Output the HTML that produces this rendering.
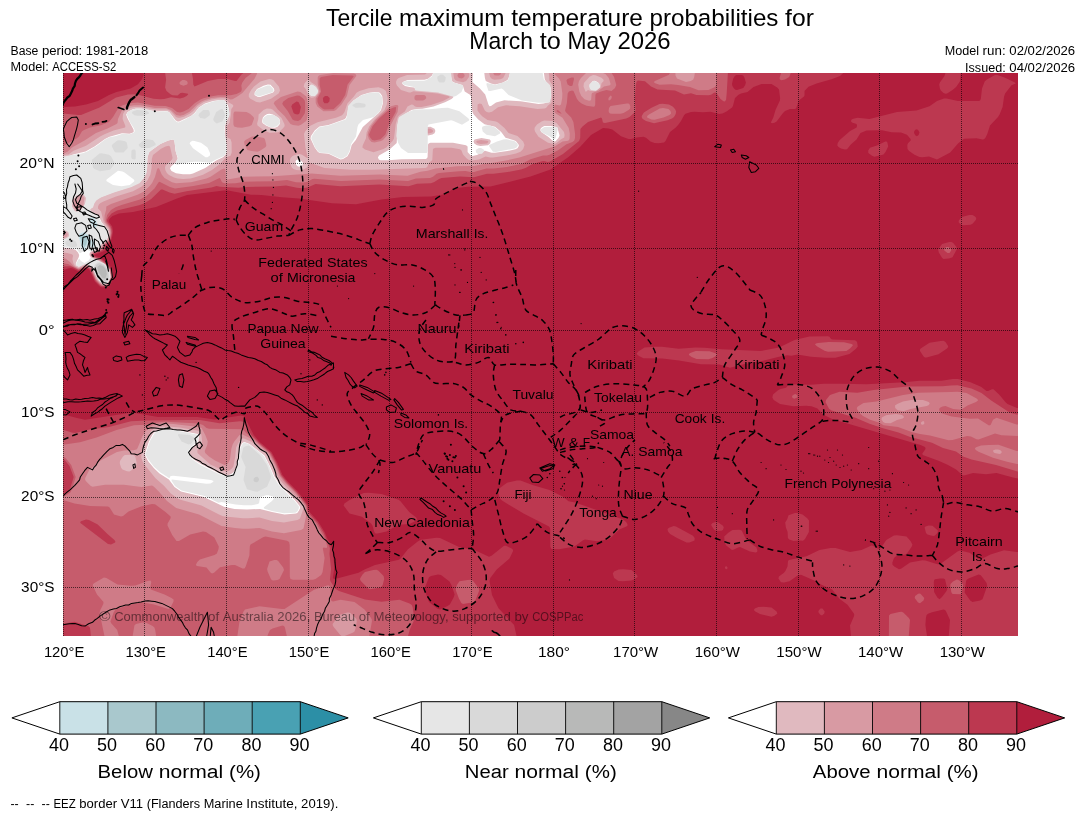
<!DOCTYPE html>
<html><head><meta charset="utf-8"><title>Tercile maximum temperature probabilities</title>
<style>html,body{margin:0;padding:0;background:#fff;}svg{display:block;font-family:"Liberation Sans",sans-serif;}text{-webkit-font-smoothing:antialiased;}svg{will-change:transform;opacity:0.9999;}</style>
</head><body>
<svg width="1085" height="816" viewBox="0 0 1085 816">
<rect x="0" y="0" width="1085" height="816" fill="#fff"/>
<defs><clipPath id="mapclip"><rect x="63" y="73" width="955.00" height="563.00"/></clipPath></defs>
<rect x="63" y="73" width="955.00" height="563.00" fill="#b11e3c"/>
<g clip-path="url(#mapclip)">
<path d="M144.5,66.0 842.0,66.0 843.8,66.0 843.8,69.5 843.2,73.0 840.0,76.1 831.5,79.2 816.5,83.4 808.5,86.7 804.5,91.0 804.5,95.5 804.0,96.5 798.8,100.5 796.1,108.5 794.5,109.1 790.0,109.0 785.0,111.1 783.0,113.0 776.6,121.5 774.5,122.8 772.0,123.3 770.8,122.5 773.3,117.5 775.5,110.0 779.9,100.5 780.1,98.0 779.0,89.6 777.2,87.5 771.5,84.1 761.5,84.0 753.5,87.0 747.5,92.0 741.0,93.4 738.5,94.7 735.0,98.1 733.0,105.8 732.1,107.5 726.5,111.6 722.5,113.5 719.0,114.1 710.5,111.8 703.0,112.3 694.5,111.8 691.0,112.1 685.5,113.7 684.2,115.0 681.0,121.0 678.5,124.5 675.8,127.5 670.0,132.0 665.5,141.0 664.0,142.4 658.5,143.3 654.5,143.0 650.5,141.6 646.0,137.7 643.5,136.8 636.5,137.5 631.0,139.1 628.5,139.0 621.0,136.3 612.3,129.5 608.5,128.5 603.0,128.0 591.0,135.0 580.0,147.0 568.5,157.0 550.5,169.4 530.5,176.5 490.5,186.5 467.5,186.8 457.0,187.9 454.0,188.8 443.0,194.4 431.0,196.5 403.0,196.9 381.5,199.5 356.0,204.3 332.0,203.2 299.0,198.4 282.0,197.2 261.5,194.9 251.0,194.7 228.0,190.5 224.0,190.4 187.0,195.1 177.0,198.4 156.0,207.1 133.0,212.0 119.0,213.5 112.5,215.9 110.0,218.3 108.7,220.5 109.0,221.9 112.2,226.5 113.1,231.5 111.7,239.0 109.9,242.5 106.7,246.0 108.5,248.0 108.3,248.5 102.5,251.8 94.3,255.0 95.1,256.0 100.5,257.7 107.0,262.6 111.5,268.0 112.8,271.5 113.3,278.5 110.0,285.5 107.5,287.3 102.0,287.4 99.5,286.3 94.8,281.5 89.5,270.1 87.0,268.3 84.3,268.5 79.0,271.2 77.0,270.8 73.0,268.5 71.0,268.1 68.1,268.5 62.0,270.7 56.0,270.8 56.0,107.2 75.0,106.6 86.0,104.5 98.0,100.9 109.0,95.0 116.5,92.1 130.7,88.5 138.0,84.2 142.1,79.0 143.4,75.5ZM736.5,74.9 735.0,75.7 733.2,78.5 732.0,84.0 732.4,86.0 734.0,88.5 735.5,89.8 737.0,90.1 743.3,88.0 745.2,85.0 745.9,82.5 744.4,77.5 743.1,75.5 741.5,74.9ZM947.5,66.0 960.8,66.0 960.7,74.5 959.9,81.5 956.1,87.0 952.5,90.1 947.1,93.5 945.5,93.8 943.5,92.9 940.8,90.5 939.9,88.5 939.2,84.5 939.9,82.5 944.5,76.0ZM995.0,75.0 997.5,75.1 1004.5,77.5 1015.0,82.5 1015.7,83.5 1011.5,85.3 1005.1,93.5 1004.1,96.5 1002.6,107.0 999.8,114.0 998.0,117.0 990.0,125.5 987.3,134.0 985.3,138.0 984.0,139.3 982.5,139.4 976.5,138.3 964.0,138.7 958.0,143.6 950.2,152.5 937.0,159.5 929.0,156.4 922.0,157.2 919.5,157.0 914.5,154.7 909.1,151.0 907.5,149.0 907.3,145.0 908.0,143.2 910.7,140.5 910.6,139.0 907.0,134.8 901.0,132.4 891.5,132.3 882.0,130.3 866.5,130.4 860.5,133.0 856.5,139.6 850.8,144.5 847.0,149.2 845.0,149.5 841.0,148.6 838.5,147.0 837.3,145.5 837.7,143.0 839.7,140.0 850.1,131.0 856.6,127.5 857.1,125.5 856.5,124.1 852.0,122.5 851.1,121.5 851.2,120.0 852.5,118.9 857.5,117.7 869.5,119.1 897.0,112.0 916.5,110.5 929.5,106.2 937.0,101.1 944.0,98.4 946.5,98.5 958.0,101.1 979.0,101.0 980.0,100.5 980.8,99.0 982.0,88.6 984.7,81.5 986.9,79.5ZM916.0,129.3 914.3,131.0 914.0,133.0 915.5,135.4 917.0,136.2 918.6,135.0 919.5,132.5 918.0,129.8ZM885.3,141.5 886.5,141.6 887.4,142.5 888.2,146.5 885.5,151.9 883.5,154.4 874.5,156.7 872.0,155.8 868.3,153.0 868.2,150.5 870.0,147.8 877.0,145.4ZM969.3,215.0 972.5,215.1 975.0,216.6 976.3,218.0 975.8,220.0 972.5,223.8 970.5,224.7 963.5,225.3 961.5,224.8 959.1,223.0 958.6,222.0 958.8,220.5 961.8,217.0ZM949.2,242.0 951.5,241.9 953.0,242.7 956.5,247.0 956.7,249.5 952.5,257.2 949.0,258.4 943.5,259.0 942.0,257.7 938.8,252.5 938.1,249.5 942.0,243.9ZM809.4,336.5 828.0,336.3 829.5,336.8 831.0,339.0 832.5,339.6 855.0,340.3 857.0,341.8 857.8,346.5 856.0,348.8 849.5,353.9 835.5,357.7 825.5,357.8 811.0,356.7 797.5,354.6 791.5,355.8 787.0,355.3 779.0,356.7 759.5,361.5 744.5,364.1 730.0,367.7 719.5,364.4 701.0,364.2 679.0,360.5 662.5,358.4 643.5,358.2 639.0,356.0 637.1,354.5 636.7,353.5 638.3,351.5 644.5,347.6 654.5,346.7 662.0,346.8 678.5,348.7 695.5,347.6 704.5,347.7 721.5,349.2 760.5,351.1 779.0,347.5 794.5,340.0ZM940.7,341.0 943.5,340.8 945.5,342.0 948.1,346.0 948.1,347.0 947.0,348.4 938.5,354.2 926.5,357.5 925.0,357.4 923.6,356.5 920.0,351.0 919.9,349.5 920.7,348.5 929.5,342.7ZM952.7,379.0 958.0,378.9 970.5,382.2 981.0,386.8 986.5,391.1 988.0,391.0 992.0,389.2 993.5,389.3 999.1,394.5 1005.8,402.5 1007.5,403.9 1017.0,408.0 1025.5,408.2 1025.5,479.3 1018.0,478.6 1013.0,477.5 996.5,472.9 986.0,474.3 973.0,472.9 965.0,475.3 963.0,475.4 956.1,469.5 947.5,464.8 938.5,460.8 922.7,455.0 922.3,453.5 925.2,449.5 925.6,448.0 924.5,446.7 920.5,444.9 832.1,419.0 823.0,414.5 817.5,408.6 811.5,406.3 806.0,405.8 793.5,406.3 780.0,404.0 773.7,400.0 772.3,397.5 773.0,394.4 778.0,390.2 780.5,388.9 786.0,387.7 788.5,384.8 790.0,384.3 810.5,384.7 824.0,383.7 840.0,383.7 866.5,384.2 904.5,382.2 919.5,380.7 941.5,380.7ZM128.7,413.0 133.5,412.8 158.0,417.1 197.5,417.0 214.5,419.6 241.0,415.4 243.5,416.0 247.1,422.0 253.8,435.0 259.5,441.7 271.5,452.0 277.2,462.5 282.5,475.0 288.0,481.7 297.7,491.5 307.1,503.5 308.2,505.5 308.7,509.5 310.0,512.6 318.2,521.5 324.9,532.5 327.0,538.1 330.8,544.5 331.8,547.5 334.3,564.5 334.0,570.5 332.9,577.5 333.7,579.0 338.0,578.3 358.5,572.7 364.5,569.4 375.0,564.9 399.0,559.8 400.6,558.5 407.7,549.5 418.0,541.2 421.0,539.8 436.5,537.8 440.0,537.9 459.0,547.1 474.5,550.1 489.0,556.7 491.5,555.7 504.0,545.7 506.0,545.8 511.6,548.5 512.8,549.5 513.1,551.0 509.5,558.5 496.7,569.5 490.3,578.0 489.5,581.0 492.0,595.0 498.5,608.3 514.1,625.0 518.2,643.5 56.0,643.5 56.0,413.7 62.0,413.9 77.0,418.1 85.0,419.7ZM438.0,574.4 431.0,576.1 429.0,577.3 424.2,589.5 429.0,602.0 437.5,608.7 440.0,609.5 447.5,606.1 449.8,604.5 453.6,597.5 454.6,594.5 451.6,585.5 449.5,581.5 441.0,575.0ZM516.8,480.5 520.5,480.5 532.5,485.1 549.5,490.0 563.5,497.0 568.5,501.3 575.0,502.6 588.0,506.9 623.0,519.5 626.1,522.0 627.4,524.0 627.6,525.5 626.4,526.5 619.3,529.5 610.5,538.0 608.5,539.2 597.0,541.3 585.0,539.5 583.0,540.3 575.9,545.5 573.5,546.7 559.0,549.2 551.5,549.0 550.3,547.0 550.2,529.5 550.0,528.0 549.0,526.5 524.0,513.8 502.0,500.6 499.8,498.5 497.9,491.5 498.5,489.0 507.0,482.7ZM363.6,493.0 368.5,492.7 381.5,493.9 398.5,499.7 400.5,501.3 409.2,512.0 416.2,517.5 417.2,519.5 415.6,521.0 409.5,523.9 398.5,524.8 386.5,531.6 377.5,533.4 375.5,533.4 374.3,532.0 372.5,525.5 371.0,523.4 362.0,516.8 349.5,513.5 343.6,505.5 344.4,503.5 349.5,500.0ZM794.9,513.0 797.5,512.9 802.5,514.6 807.0,517.9 809.0,520.5 808.9,532.0 805.0,539.0 803.0,540.8 799.5,540.5 793.5,541.1 789.2,539.5 787.9,538.0 787.6,532.0 785.9,527.5 785.2,522.5 787.3,519.0 788.5,515.2ZM715.7,522.0 718.0,522.3 723.0,525.7 723.8,527.5 722.9,530.0 721.5,530.7 717.0,530.8 715.4,530.5 714.0,529.5 711.6,526.0 711.2,524.5 712.5,523.0ZM928.8,525.5 932.5,525.7 937.9,530.5 937.7,532.5 935.0,535.5 933.5,536.0 931.0,535.5 927.5,534.4 926.0,533.0 924.6,527.5 925.5,526.4ZM673.7,526.0 676.0,526.4 693.0,535.8 694.7,538.0 694.5,540.4 689.5,542.4 686.5,542.6 677.5,538.3 670.1,534.0 668.0,531.5 667.5,529.0 669.0,527.7ZM732.5,530.0 739.5,529.8 741.7,530.5 746.4,540.0 756.5,547.5 757.4,550.5 757.1,552.0 755.5,552.4 750.0,551.6 740.0,547.1 738.0,547.4 734.0,549.5 732.0,549.9 726.2,545.5 724.6,542.5 724.2,536.5 728.6,532.5ZM893.9,535.5 897.0,535.3 906.5,536.6 910.5,541.1 912.4,544.5 911.8,546.5 907.0,553.5 905.0,554.4 896.0,556.3 894.0,558.0 892.4,562.5 892.4,564.5 894.2,566.5 899.0,569.2 901.0,568.7 910.0,562.5 922.5,560.3 925.5,560.4 937.5,564.2 940.0,564.2 957.5,551.4 960.0,550.4 969.5,552.7 977.5,558.4 979.5,559.3 981.5,558.9 990.5,554.6 1004.0,550.3 1016.5,552.1 1025.5,552.2 1025.5,643.5 948.2,643.5 950.0,620.0 945.9,611.0 945.0,609.9 943.5,609.4 932.0,612.2 928.0,613.7 926.6,615.0 925.9,618.0 925.4,625.0 928.1,643.5 851.7,643.5 850.0,625.5 854.1,616.0 854.2,614.0 847.5,604.7 839.5,598.7 832.2,589.5 820.9,584.5 816.5,581.4 801.0,574.8 798.0,575.3 789.5,581.3 784.0,582.5 781.0,582.2 778.4,578.5 778.9,576.5 784.0,572.7 785.5,570.8 787.5,566.5 788.0,561.1 789.0,560.0 806.5,556.2 819.5,550.1 830.5,547.9 835.5,547.9 850.0,552.1 861.5,550.0 871.5,545.6 873.3,546.0 878.0,548.8 879.5,548.9 881.0,547.7 886.3,540.0ZM940.0,578.4 935.0,579.2 934.2,580.0 933.8,582.0 934.1,592.0 937.5,597.7 939.5,599.2 942.0,597.1 946.5,591.1 947.3,589.0 945.0,579.3 943.5,578.4ZM978.5,574.5 968.0,578.7 966.5,580.0 966.0,581.5 964.6,592.5 970.2,600.5 972.5,602.1 980.0,600.6 982.5,599.2 987.2,586.0 986.6,583.0 982.2,577.0 980.4,575.0ZM725.4,566.5 726.5,566.3 727.3,567.0 727.6,568.0 727.0,569.1 726.0,569.2 725.2,568.5 724.9,567.5ZM618.6,569.5 623.5,569.2 631.5,570.1 636.5,574.5 637.5,576.0 637.5,577.0 634.9,579.0 631.5,580.6 623.0,581.3 618.5,580.9 614.1,578.0 612.8,573.5 614.0,571.6ZM758.4,607.0 763.5,606.7 771.5,607.6 776.6,611.5 777.4,613.5 774.5,615.7 771.5,616.7 760.0,614.1 755.3,611.5 753.8,610.0 754.8,608.5ZM820.5,608.5 822.5,608.5 824.7,611.5 824.3,613.5 822.0,615.5 820.0,614.5 818.3,612.0 818.7,610.5Z" fill="#bc3850" fill-rule="evenodd"/>
<path d="M164.1,66.0 190.6,66.0 193.0,79.0 193.3,84.5 194.5,86.6 207.8,81.0 218.0,79.0 227.5,78.9 235.0,81.1 236.5,81.1 241.5,74.6 247.0,70.0 248.4,66.0 728.3,66.0 726.7,93.5 726.1,99.5 725.0,101.5 723.5,101.3 720.5,99.0 717.0,93.8 715.5,92.6 714.0,92.7 711.0,94.7 708.5,95.2 696.5,95.1 691.0,93.2 684.0,94.6 675.0,90.5 657.5,89.6 651.0,86.5 645.0,81.3 637.9,80.5 636.5,81.7 635.8,85.0 634.8,99.5 635.6,110.5 634.5,112.6 629.5,116.9 626.2,118.5 605.0,123.1 602.9,122.5 602.0,118.4 601.0,117.5 588.0,121.9 582.5,126.5 580.4,129.0 580.2,138.0 579.1,141.0 563.0,153.9 549.5,161.8 547.5,162.1 544.0,161.1 542.0,161.3 532.0,164.3 525.5,168.0 521.0,169.4 507.5,172.1 493.5,173.7 487.0,173.8 474.0,177.2 460.0,176.4 441.5,178.1 439.0,178.9 434.3,182.0 431.0,183.2 417.0,183.8 408.5,186.3 379.5,184.6 340.5,186.3 315.5,184.1 307.5,187.4 301.5,188.3 297.0,187.8 286.0,185.4 274.5,186.4 245.5,186.9 238.5,187.8 220.0,186.7 216.5,186.0 211.5,187.4 186.5,191.2 174.5,193.7 169.5,192.6 162.5,189.4 161.0,189.4 151.2,199.0 144.5,203.2 139.0,205.3 117.0,210.6 111.5,213.6 108.0,217.8 107.0,220.0 107.1,221.5 110.7,226.5 111.8,230.0 111.9,233.5 110.8,238.5 108.6,242.5 104.9,245.5 104.4,248.0 103.5,249.5 100.0,251.6 93.5,253.9 92.9,255.0 94.9,257.0 100.0,258.6 105.5,262.8 110.2,268.0 111.4,270.5 112.3,274.5 112.3,278.0 109.4,284.5 107.0,286.3 102.0,286.3 100.0,285.3 95.7,281.0 90.5,269.7 87.5,267.4 84.5,267.4 78.5,270.1 72.5,267.1 70.0,266.3 56.0,266.8 56.0,113.2 62.0,113.3 78.0,115.1 81.0,114.9 99.5,107.6 116.0,97.5 128.0,94.4 136.0,94.3 153.5,98.8 160.0,99.3 164.1,99.0 171.0,97.3 180.0,98.5 183.8,97.5 186.5,96.0 188.1,94.5 188.0,93.7 182.5,92.7 180.5,93.0 177.5,95.6 172.5,95.3 170.5,94.3 166.5,91.0 165.1,87.5 166.1,79.5ZM296.5,101.4 292.2,104.5 291.3,106.5 293.6,113.0 295.0,114.1 297.5,114.6 299.0,114.0 299.6,113.0 300.9,107.0 298.5,102.1ZM325.0,95.9 322.9,98.0 323.2,101.5 324.5,103.3 327.5,103.3 329.4,101.5 329.7,98.0 327.5,95.9ZM783.1,66.0 793.5,66.0 789.2,77.0 785.0,79.6 781.5,80.2 779.9,79.5 779.6,78.0ZM659.5,104.0 662.5,103.8 669.0,104.6 673.0,106.7 675.3,109.5 676.1,111.5 675.7,114.0 674.0,117.1 672.0,118.5 667.5,120.3 654.0,123.3 646.0,121.1 642.7,119.0 641.8,117.5 641.7,116.0 643.9,112.5 651.5,107.8ZM946.1,247.0 948.5,246.9 951.0,248.7 951.2,250.5 949.5,252.9 947.5,252.9 944.3,250.5 944.2,249.0ZM828.7,342.0 844.0,342.3 851.6,344.0 852.5,344.5 852.8,345.5 850.0,348.6 846.4,351.0 828.0,351.8 824.5,350.8 817.2,346.5 815.0,344.5 815.9,343.5 818.0,342.9ZM695.7,351.0 709.5,351.2 716.2,353.5 717.3,355.0 712.5,358.1 708.5,359.3 696.5,359.1 691.7,357.0 688.9,355.0 689.0,354.0 690.2,353.0ZM950.6,385.5 957.5,385.3 971.5,388.5 981.5,393.0 991.2,400.5 1010.0,412.7 1016.5,414.6 1025.5,414.7 1025.5,472.6 1017.5,471.5 996.0,465.0 971.5,459.6 963.0,456.5 956.0,451.6 943.0,448.0 932.0,442.8 909.5,436.7 898.5,432.6 883.0,428.3 869.5,423.7 855.5,417.8 831.5,410.5 829.0,408.7 825.5,402.0 826.3,399.5 830.0,395.1 839.5,391.7 857.5,392.7 873.5,389.9 907.5,386.4 942.5,386.2ZM793.9,394.5 795.5,394.1 797.0,394.9 797.6,396.5 797.1,397.5 794.5,398.8 792.5,398.1 792.0,396.0ZM188.1,420.0 200.0,420.0 219.5,423.3 240.0,421.3 242.5,421.5 244.0,422.4 251.5,435.0 259.0,442.7 270.9,453.0 276.2,463.0 281.2,475.0 287.0,482.2 296.6,492.0 306.1,504.0 307.2,506.0 307.6,510.0 309.1,513.5 317.3,522.5 323.7,533.0 329.9,548.0 329.5,554.0 331.1,569.0 329.9,579.5 330.6,581.5 335.6,589.0 339.0,590.9 365.0,599.5 381.5,601.7 399.5,599.7 409.5,603.4 411.8,605.0 412.7,607.5 414.4,619.5 409.8,629.5 406.0,643.5 91.6,643.5 90.2,629.0 89.8,627.5 88.5,626.2 74.5,621.8 63.5,623.7 56.0,623.8 56.0,495.5 62.5,495.2 68.6,491.5 70.0,489.0 73.7,477.0 69.5,465.9 64.7,460.0 61.5,457.6 56.0,457.5 56.0,429.2 62.5,429.5 72.5,432.7 75.5,433.1 89.5,429.5 109.0,427.0 131.0,421.3 147.0,420.5ZM86.0,519.4 81.0,521.2 80.3,522.0 80.4,523.0 108.0,544.0 111.0,544.4 115.1,542.5 115.4,541.5 114.4,540.0 107.5,534.1 97.7,524.5 89.0,519.9ZM373.3,570.0 376.5,569.8 378.5,570.8 383.6,576.0 384.2,579.0 382.7,585.0 381.5,586.8 379.0,587.7 370.0,589.2 368.0,588.2 361.3,581.5 360.2,580.0 360.1,578.5 362.5,574.5 365.0,571.9ZM956.8,579.5 958.0,579.7 960.1,581.0 962.4,583.5 963.1,585.0 961.8,592.5 961.0,593.9 960.0,594.3 953.0,594.0 952.0,593.4 951.3,592.0 950.3,586.0 950.5,584.0 953.0,581.5ZM467.6,580.0 471.0,579.8 473.0,580.7 478.5,588.0 479.2,590.5 475.8,599.5 474.5,601.5 472.0,602.6 463.0,604.1 461.3,603.0 458.9,598.5 455.9,590.5 455.8,588.0 457.2,584.5 459.5,581.3ZM917.8,594.0 919.0,593.6 920.5,593.8 924.3,598.0 923.5,600.4 920.0,603.3 918.0,602.6 914.7,598.0 915.1,596.0ZM899.2,612.0 901.5,611.8 903.3,612.5 908.9,618.0 910.0,620.0 908.2,643.5 888.8,643.5 889.0,615.5 890.5,613.9Z" fill="#c65c6c" fill-rule="evenodd"/>
<path d="M253.9,66.0 609.2,66.0 609.7,70.0 614.1,77.0 616.3,85.0 615.0,88.0 611.5,90.9 606.5,90.1 601.0,91.5 596.0,93.5 595.4,95.0 595.2,105.0 594.5,106.4 593.5,106.7 586.5,105.7 582.0,103.8 579.0,101.5 577.0,99.0 573.5,91.0 572.0,90.4 568.9,91.5 567.7,93.5 566.9,103.0 565.1,110.5 565.7,112.0 571.2,117.5 573.4,122.0 575.1,134.0 575.0,138.0 574.3,140.5 572.5,142.1 566.5,144.3 558.5,150.0 549.5,154.7 547.0,155.5 543.0,155.4 530.5,159.3 522.0,163.7 507.0,166.9 493.5,168.5 486.3,168.5 474.0,171.9 470.5,172.0 465.5,171.1 459.0,171.2 439.0,173.1 436.5,173.8 433.0,176.7 430.0,177.9 416.0,178.5 408.0,181.0 379.5,179.4 341.0,181.1 314.5,178.7 312.5,179.0 307.5,181.8 303.5,182.5 296.0,182.2 287.0,180.1 274.0,181.2 244.5,181.7 235.5,183.2 227.5,183.6 224.5,183.2 222.0,182.2 220.2,178.5 219.5,178.1 209.0,182.9 193.5,185.9 175.0,188.4 170.0,187.1 159.5,181.7 158.4,182.5 154.5,188.5 146.5,196.0 140.0,199.4 121.5,204.9 115.5,207.2 111.0,210.1 107.2,215.0 105.8,220.5 106.5,222.5 109.6,226.5 110.9,229.5 111.2,233.0 110.3,238.0 108.1,242.0 104.2,245.0 103.1,248.0 102.0,249.5 97.0,252.1 93.0,253.3 92.1,255.0 94.0,257.2 99.0,258.8 102.1,261.0 106.8,265.0 110.3,269.5 111.6,274.0 111.7,277.5 110.7,280.5 108.0,285.1 106.5,285.7 103.5,285.9 101.5,285.4 100.0,284.5 95.5,279.5 90.9,269.0 87.5,266.6 85.0,266.5 79.5,269.2 78.0,269.3 68.0,263.9 56.0,262.3 56.0,146.2 63.5,145.7 76.5,138.6 79.0,136.4 82.0,131.2 84.0,129.9 90.0,127.5 101.0,125.3 108.9,122.0 113.0,117.1 117.8,109.0 120.5,106.3 123.5,104.9 131.0,103.0 138.0,102.5 154.5,105.7 165.5,106.0 172.0,108.1 177.0,112.0 180.0,112.4 183.5,111.5 188.5,109.0 195.0,103.1 200.5,99.6 203.5,98.3 210.5,96.4 218.0,95.3 230.5,95.3 236.5,93.9 240.5,92.0 241.4,91.0 241.8,89.0 241.3,85.5 242.3,82.5 245.5,78.0 251.4,73.5ZM297.0,95.5 288.3,98.0 283.3,101.5 282.3,103.5 282.9,105.0 287.7,111.0 292.5,119.5 294.5,120.5 298.0,121.1 300.5,119.7 304.7,113.5 305.2,110.5 305.1,103.0 304.7,100.5 303.1,98.5 299.5,95.7ZM332.5,75.0 321.0,76.9 319.6,78.5 319.6,84.5 321.1,91.5 317.4,98.5 317.5,102.0 319.0,105.5 322.5,108.5 324.5,109.5 333.5,109.2 340.2,103.0 345.2,95.0 347.6,84.5 353.6,76.5 353.5,76.0 352.0,75.5ZM393.5,107.4 389.3,109.5 378.5,119.0 372.5,126.3 369.0,134.5 369.8,137.0 372.2,140.0 374.5,140.5 380.5,139.2 385.4,134.5 388.8,124.5 395.6,112.0 396.1,107.5 395.5,107.1ZM557.0,109.9 556.5,111.0 557.4,112.0 560.5,113.5 561.7,113.5 558.5,110.4ZM571.5,77.4 567.5,79.0 566.4,80.5 567.6,84.5 570.0,86.1 571.5,86.1 572.5,85.4 574.0,79.0 573.6,77.5ZM671.1,66.0 716.3,66.0 716.3,83.5 715.8,86.0 714.5,87.2 708.5,90.0 698.5,90.2 690.0,87.1 678.0,85.0 671.0,84.3 659.5,84.7 654.6,83.0 654.0,82.0 654.9,81.0 669.0,74.7 670.1,72.5ZM182.3,80.0 184.5,79.9 187.0,80.9 187.8,83.0 187.1,84.5 183.5,85.8 180.1,84.5 179.5,83.5 179.8,82.0ZM610.5,95.5 611.6,96.0 611.7,98.0 610.5,99.7 609.0,100.4 608.4,100.0 608.5,98.0ZM626.8,103.5 628.5,103.5 629.5,104.2 630.3,106.5 630.1,108.5 629.0,109.8 623.5,112.9 620.5,113.8 612.0,113.7 610.0,113.4 609.0,112.4 608.6,111.0 609.0,108.0 610.5,105.9ZM659.7,108.5 663.0,108.1 668.5,109.1 670.5,111.0 671.1,113.5 669.5,115.0 663.6,117.5 654.5,119.8 651.4,119.5 647.1,117.5 647.2,116.0 649.0,114.5ZM951.1,392.0 957.5,391.7 966.5,393.0 976.6,398.5 977.7,399.5 978.0,400.5 976.0,402.0 967.5,405.4 961.0,409.7 953.1,409.0 945.5,406.1 942.5,406.5 940.0,407.7 939.1,409.0 939.8,411.5 941.5,413.3 951.5,416.6 970.0,418.7 978.0,418.4 989.0,425.6 990.6,425.0 993.0,419.7 996.5,417.8 1016.5,424.5 1025.5,424.7 1025.5,436.3 1001.5,435.2 995.0,433.6 978.5,439.6 976.5,439.3 971.0,436.6 967.0,435.9 952.5,440.0 948.5,440.2 930.0,435.6 920.0,434.0 911.7,432.0 898.0,427.1 883.5,425.3 879.5,422.8 870.0,419.8 863.0,416.0 859.9,413.5 856.9,409.0 857.0,407.5 857.8,406.5 863.5,403.0 876.5,401.4 903.0,395.0 918.0,392.8ZM162.1,422.0 166.5,421.8 198.5,423.6 203.0,424.9 206.5,428.1 209.0,428.8 242.0,429.3 243.5,430.1 246.0,433.0 254.0,438.7 258.6,443.5 269.4,452.5 275.5,463.5 280.5,475.5 286.5,482.9 296.0,492.6 305.5,504.6 306.4,506.5 307.1,511.5 308.5,514.8 316.0,523.0 323.5,535.9 326.6,544.0 327.2,547.0 326.5,548.0 323.5,547.6 322.8,548.5 324.6,558.0 322.6,572.0 321.2,575.0 315.5,578.9 313.0,579.7 293.0,579.7 290.5,579.1 289.8,576.5 289.7,545.0 289.1,542.0 287.0,540.8 265.5,536.5 263.5,537.1 250.5,544.6 249.8,546.5 249.4,555.5 245.7,566.5 244.5,568.5 242.5,568.5 235.0,565.1 231.9,565.0 220.0,567.2 214.0,572.7 212.0,573.6 210.5,572.5 206.5,567.4 197.0,566.0 195.8,565.0 197.3,562.0 199.9,559.5 214.5,555.1 216.9,553.5 218.5,549.0 218.8,546.5 214.3,537.5 206.0,532.1 203.0,531.5 190.2,534.5 179.0,540.9 176.5,541.0 172.2,535.0 167.5,525.5 167.6,523.5 170.7,518.0 170.6,516.5 165.5,512.0 155.0,504.3 152.0,504.1 141.0,506.5 128.5,511.5 123.0,516.1 121.0,516.6 114.0,514.5 109.6,507.5 108.0,506.5 90.0,506.1 74.5,503.5 63.0,499.9 56.0,499.6 56.0,497.7 63.0,497.2 70.4,492.5 72.2,488.5 75.7,477.0 71.2,465.0 66.0,458.6 62.5,455.9 56.0,455.6 56.0,444.7 64.5,444.6 80.0,442.3 96.5,437.6 116.5,430.1 134.0,425.3 146.5,424.8 151.0,423.3ZM988.7,445.0 998.5,444.8 1016.5,451.0 1025.5,451.2 1025.5,464.8 1017.0,463.9 1007.0,461.7 993.0,457.7 978.5,451.8 975.8,450.0 974.8,448.5 976.0,447.2 981.0,445.5ZM274.2,560.0 276.5,559.9 278.0,560.7 283.2,567.5 284.0,570.0 279.5,579.0 277.5,579.9 273.5,580.6 272.0,580.2 270.9,579.0 267.6,571.5 267.1,569.0 269.5,561.6ZM103.9,577.5 106.4,578.0 117.5,584.4 130.5,585.7 135.5,585.4 147.5,581.1 150.5,580.5 151.3,582.0 150.3,587.5 150.9,589.5 164.5,594.4 171.5,597.9 173.6,599.5 173.5,601.5 170.5,607.6 168.5,609.0 154.0,604.5 142.0,602.3 129.5,604.6 115.6,609.5 113.8,612.0 110.4,621.5 111.4,623.5 117.2,630.0 120.9,643.5 106.0,643.5 99.6,613.0 100.0,610.8 103.3,604.0 103.5,602.0 97.0,594.5 92.7,585.5 93.0,584.2 94.0,583.2ZM327.2,585.5 329.0,585.5 330.2,587.0 330.8,599.0 331.5,601.0 333.0,601.4 340.5,599.7 354.5,602.1 364.5,609.4 370.7,617.5 371.8,619.5 371.9,621.5 368.0,643.5 288.5,643.5 284.9,627.5 284.0,625.9 282.5,625.5 272.5,628.6 270.0,630.0 268.3,633.5 265.0,643.5 236.3,643.5 239.4,622.0 243.5,611.5 245.0,609.6 259.5,606.2 282.0,609.1 284.5,609.0 314.0,589.8ZM142.2,622.5 146.0,622.7 152.7,626.0 154.4,627.5 155.2,630.0 157.3,643.5 131.4,643.5 134.4,625.5 136.0,624.1Z" fill="#cf7b87" fill-rule="evenodd"/>
<path d="M259.3,66.0 491.7,66.0 493.6,74.0 494.5,75.2 496.5,75.6 499.0,75.4 500.5,74.5 503.5,66.0 553.0,66.0 554.5,73.9 559.0,78.5 560.7,81.5 562.4,93.5 562.2,98.0 561.0,104.5 559.5,105.4 555.0,104.5 554.3,106.0 554.2,111.5 555.5,113.3 562.5,117.8 568.7,128.0 569.8,133.5 569.6,138.5 569.1,140.0 568.0,140.8 562.5,141.6 555.0,146.2 519.5,157.6 504.5,160.8 493.0,162.8 485.5,163.5 474.0,165.9 457.0,166.3 435.5,168.4 427.5,170.8 420.5,171.8 407.5,175.8 379.5,174.4 340.5,175.8 311.5,173.4 273.5,176.2 243.0,176.8 227.8,179.5 226.5,179.1 226.0,178.2 225.5,170.1 225.0,168.9 224.0,168.6 221.0,169.8 211.0,176.6 206.5,178.5 191.0,182.2 176.0,183.2 172.0,182.3 164.5,178.1 161.7,174.5 159.1,168.5 158.0,168.0 157.0,169.4 155.0,177.0 152.1,183.0 149.7,186.0 144.0,191.4 137.5,194.8 111.0,204.0 106.3,206.5 106.2,209.5 104.6,215.5 104.5,220.0 105.3,222.5 109.0,227.2 110.1,229.5 110.5,232.5 110.0,237.0 108.0,241.1 103.6,244.5 101.3,249.0 96.7,251.5 92.5,252.8 91.4,255.0 92.1,256.5 93.5,257.6 99.0,259.5 101.7,261.5 106.0,265.2 109.6,269.5 110.9,274.0 111.1,277.5 107.6,284.5 106.0,285.2 103.0,285.2 100.0,283.6 95.9,279.0 91.3,268.5 88.5,266.4 85.5,265.7 79.5,268.4 78.0,268.6 73.7,266.0 70.0,262.0 65.5,258.5 56.0,257.0 56.0,152.6 60.0,154.5 63.0,154.3 65.5,152.4 67.5,151.8 72.0,147.6 84.5,140.5 96.0,133.1 107.5,128.6 116.5,124.0 117.5,123.0 118.0,119.0 121.6,111.0 124.5,108.4 130.0,106.1 134.0,105.3 140.5,105.3 155.0,108.0 166.0,108.1 171.0,109.9 176.3,115.0 180.0,115.7 183.5,114.9 189.5,111.8 197.0,104.6 202.0,101.2 205.0,99.9 211.5,98.1 220.5,96.9 226.0,97.2 230.5,99.6 232.5,99.2 237.0,96.8 242.4,93.0 254.5,78.8 256.7,74.5ZM297.5,91.5 281.0,97.1 274.7,101.5 273.7,103.5 277.9,109.5 284.6,116.0 290.5,124.0 293.0,124.9 298.5,125.7 301.0,124.8 305.5,121.5 306.8,120.0 307.6,116.0 308.2,108.0 307.2,99.5 306.3,96.5 300.5,91.9ZM333.5,73.0 320.0,75.1 318.4,76.0 317.7,77.5 317.7,84.0 319.7,91.5 319.0,93.5 315.6,98.5 315.7,103.0 317.3,106.5 323.5,111.3 334.0,111.1 336.0,109.9 341.4,104.5 346.9,96.0 349.5,85.1 356.3,76.0 356.0,74.5 354.0,73.6ZM395.5,104.9 391.0,106.2 388.5,107.8 385.0,111.6 376.1,119.5 371.1,126.0 368.3,132.0 367.6,135.0 368.9,139.0 371.5,142.0 374.5,142.4 381.0,141.1 383.0,139.9 387.1,135.5 390.5,125.5 397.6,112.0 398.3,106.0 397.4,105.0ZM416.0,94.9 414.7,96.0 414.4,98.0 414.7,99.5 416.0,100.6 423.0,100.5 425.0,99.5 426.3,98.0 425.7,96.0 424.2,95.0ZM461.0,72.4 458.2,73.5 457.4,75.5 458.0,77.0 459.0,77.9 462.0,78.5 464.2,77.0 464.7,75.0 463.0,72.9ZM235.0,111.5 234.0,112.0 233.4,114.0 233.4,124.5 234.2,126.5 237.5,127.5 242.0,127.7 249.5,126.3 251.7,125.0 254.1,118.5 253.5,117.0 250.0,113.8 246.5,111.9ZM252.0,136.4 245.5,140.0 244.1,141.5 244.5,144.5 247.4,150.0 251.5,151.1 257.5,151.7 260.0,150.7 265.7,147.0 266.3,145.5 266.1,144.0 265.0,139.5 264.0,138.0 256.0,136.5ZM675.0,66.0 695.9,66.0 694.2,77.0 693.3,79.5 690.8,81.0 686.0,82.1 677.0,78.5 675.5,75.5ZM590.9,70.0 593.5,69.7 596.5,70.1 605.5,74.1 608.8,78.0 610.6,84.0 610.0,85.2 604.0,86.6 598.5,90.7 592.1,93.0 591.6,94.0 591.2,99.5 590.5,100.5 589.0,100.7 584.5,99.2 581.3,96.0 579.3,91.5 578.2,84.5 579.0,81.0 581.0,77.9 587.0,72.0ZM911.2,400.0 923.0,400.0 928.7,402.0 929.6,403.0 929.5,404.0 928.5,405.3 926.8,406.0 910.5,409.0 903.5,411.3 897.5,410.3 895.2,408.0 895.0,405.5 897.2,404.0 903.0,401.5ZM890.6,414.5 896.0,414.1 901.5,414.7 903.5,415.9 903.9,417.5 902.6,418.5 897.0,420.1 890.5,423.3 885.0,423.0 883.2,422.0 881.5,419.5 881.8,417.5 886.0,415.2ZM923.0,421.0 924.1,421.5 924.4,423.5 923.5,424.5 922.0,424.7 921.0,423.9 920.9,422.5ZM163.7,423.5 173.5,424.1 196.5,426.7 201.5,428.0 205.3,435.0 207.8,441.5 207.3,445.0 204.7,451.0 205.2,453.0 209.0,456.5 215.0,460.6 224.5,464.9 227.0,464.5 229.1,461.5 230.0,459.0 231.3,449.0 232.6,444.5 234.3,441.5 239.5,435.1 241.0,434.3 242.5,434.5 253.0,439.5 269.0,453.7 274.5,463.8 279.6,476.0 285.2,483.0 295.5,493.6 304.9,505.5 305.4,507.0 306.0,516.5 303.5,528.6 301.0,530.0 284.0,533.3 272.0,531.5 259.5,527.9 248.0,528.8 243.0,528.7 235.0,528.1 221.5,526.1 199.0,514.5 176.2,508.0 167.0,501.1 159.2,492.0 154.0,486.8 152.0,485.6 141.5,486.9 124.0,484.8 105.0,484.8 92.5,486.7 90.5,485.7 85.8,481.0 85.1,479.5 85.2,478.0 89.2,470.0 101.0,460.2 117.0,452.0 124.0,450.5 133.5,450.2 136.5,449.5 137.5,448.2 142.8,435.5 146.2,430.5 149.4,427.0 152.5,425.6ZM995.4,449.5 998.0,449.5 1000.0,450.1 1001.5,451.2 1001.7,452.5 1000.9,453.5 999.5,454.1 994.6,453.0 993.4,452.0 993.0,450.5ZM347.3,612.5 349.0,612.4 350.5,612.9 356.5,619.0 356.8,621.5 355.4,629.0 354.5,631.4 353.2,632.5 344.5,636.1 342.0,636.4 340.0,634.8 333.7,627.0 332.8,625.5 332.6,624.0 339.2,615.0Z" fill="#d89aa3" fill-rule="evenodd"/>
<path d="M430.4,66.0 455.6,66.0 455.5,69.0 453.4,73.5 454.2,78.5 455.2,80.0 456.9,81.0 463.0,82.3 466.1,81.0 469.0,77.0 469.2,74.5 467.9,70.5 468.1,66.0 487.6,66.0 490.1,77.0 492.0,79.0 494.5,79.8 500.5,79.3 503.1,78.0 505.0,74.6 507.0,69.0 507.5,66.0 547.7,66.0 549.2,76.0 549.3,80.5 552.3,85.0 552.9,87.0 551.7,102.0 551.0,103.3 548.0,105.4 546.0,108.0 544.5,108.6 537.5,109.0 519.5,106.3 506.0,105.3 498.0,107.3 492.0,111.7 489.0,112.5 486.7,112.0 484.8,110.5 481.7,104.0 479.5,103.4 477.6,104.5 477.5,110.5 480.0,114.0 482.5,116.4 487.5,120.0 496.0,121.5 498.0,122.4 504.5,128.1 508.5,133.0 517.5,136.1 523.2,141.5 524.5,145.0 523.2,149.0 520.5,151.7 516.0,153.5 506.5,155.5 493.0,157.5 490.0,157.5 485.5,156.4 479.0,159.4 472.0,160.4 468.5,159.7 466.5,158.3 463.0,154.6 461.5,150.5 460.0,149.3 451.5,147.8 435.5,147.8 433.5,148.4 432.9,149.5 432.3,160.0 428.9,163.0 427.2,167.0 425.5,167.9 371.5,169.7 351.0,169.7 324.5,168.1 309.5,162.4 306.9,167.5 302.5,170.0 299.5,170.3 296.4,170.0 293.5,169.0 291.7,167.5 290.4,164.0 289.9,160.5 290.6,158.0 292.5,156.1 296.5,154.4 299.5,154.0 302.0,154.8 307.0,158.1 307.9,158.0 305.4,147.5 304.0,134.0 305.1,131.5 309.9,126.0 317.5,122.2 336.0,117.8 341.5,115.4 343.0,114.2 344.5,111.9 347.4,103.5 353.9,96.5 356.5,92.7 359.5,91.0 368.5,88.3 378.5,87.3 383.0,88.7 386.0,91.0 387.7,98.5 386.7,105.0 384.5,110.0 374.5,119.5 369.2,126.5 366.6,132.5 366.0,138.2 362.7,145.5 362.4,147.5 365.0,149.4 373.5,152.3 383.5,148.9 386.2,147.5 392.5,141.1 394.0,138.6 395.7,124.0 397.8,117.0 399.0,115.5 404.8,111.5 407.5,106.4 411.5,104.6 413.0,104.8 415.0,106.6 417.0,107.0 421.5,106.9 431.1,105.0 442.9,101.0 449.6,97.5 449.4,96.5 448.2,96.0 437.5,93.6 413.5,91.3 410.5,92.5 409.0,92.4 401.0,89.9 396.9,85.5 396.1,83.5 396.1,81.5 397.0,79.5 398.7,78.0 407.0,74.9 425.0,74.4 428.0,72.0ZM481.0,140.0 477.0,140.8 476.0,142.0 478.1,143.5 481.0,144.1 487.0,143.4 488.4,142.0 488.0,141.1 487.0,140.7ZM427.0,128.9 425.5,129.8 424.9,131.0 425.2,132.0 426.5,133.1 428.0,133.5 430.5,133.1 432.2,132.5 433.1,131.5 432.7,130.0 431.0,129.0 429.0,128.5ZM593.0,75.0 595.5,75.3 601.5,77.8 603.4,79.5 603.7,81.0 601.5,83.2 600.6,87.5 597.6,90.0 594.0,91.0 590.5,90.9 588.0,90.1 586.0,91.8 585.5,91.6 583.5,86.5 583.9,83.0 589.5,76.7ZM269.1,79.0 271.5,79.2 273.5,80.3 279.0,86.8 280.0,90.5 278.6,93.5 271.0,98.8 260.0,102.5 256.5,102.0 250.0,98.6 248.7,96.5 248.9,94.0 251.1,90.0 254.0,86.5 260.5,81.5ZM307.5,80.0 309.0,79.6 310.7,82.0 315.5,84.9 317.0,86.7 318.4,90.0 318.5,92.0 317.6,94.0 315.5,96.5 313.5,97.6 311.0,97.7 309.5,96.6 307.5,93.5 306.0,89.6 303.7,86.5 304.4,83.5ZM217.5,98.5 222.5,98.2 225.5,98.6 226.8,99.5 228.8,102.5 232.5,104.4 233.3,105.5 233.2,106.5 231.3,109.0 230.8,115.5 229.4,123.0 227.4,125.5 226.9,127.5 227.2,137.0 228.0,138.0 230.5,139.0 231.6,142.5 231.7,152.5 230.5,155.8 225.7,157.5 220.0,164.1 211.5,170.2 203.0,174.7 196.0,177.1 190.5,178.4 183.0,178.9 177.5,178.4 174.0,177.5 169.0,174.9 166.9,173.0 165.3,170.0 165.0,167.5 165.6,165.5 171.6,160.0 172.6,158.0 170.0,146.5 168.5,145.7 165.5,146.5 161.0,148.8 153.0,155.0 151.8,159.0 151.6,168.0 150.4,174.5 147.1,181.0 141.8,186.5 133.0,191.3 116.0,196.6 104.0,201.2 100.5,202.9 98.9,204.5 98.0,206.5 98.0,208.5 101.1,211.5 103.7,222.0 109.0,229.1 109.7,232.0 109.5,235.7 107.5,240.6 103.0,244.0 100.5,248.5 96.1,251.0 92.0,252.2 90.9,253.5 90.6,255.0 91.2,256.5 93.0,258.1 98.5,260.0 101.2,262.0 105.7,266.0 109.0,269.9 110.3,274.5 110.3,277.5 107.0,284.0 105.5,284.5 102.5,284.3 99.4,282.0 96.5,278.5 92.2,268.5 89.5,266.1 87.5,265.1 85.5,265.0 78.5,267.9 75.0,266.0 73.3,263.0 72.4,259.0 73.1,255.5 72.0,254.2 67.0,252.9 56.0,251.8 56.0,238.0 64.5,237.8 67.0,236.5 67.9,234.5 67.0,232.7 64.0,231.5 56.0,231.0 56.0,154.9 62.0,155.9 66.0,154.5 68.5,154.4 73.5,150.7 86.0,145.7 100.1,136.5 104.5,134.2 113.5,130.5 125.1,127.5 125.4,126.0 122.6,119.0 123.0,114.0 125.0,110.8 130.5,107.7 134.5,106.9 141.0,106.9 156.0,109.6 167.0,109.6 170.5,111.0 176.0,116.9 178.0,117.7 180.0,117.8 184.0,116.7 190.0,113.6 193.0,111.2 197.5,106.1 203.7,102.0 211.5,99.5ZM80.0,195.4 76.8,197.0 74.5,199.0 73.6,200.5 73.2,206.0 75.0,209.1 76.5,210.3 79.5,209.7 82.5,207.5 83.4,206.0 84.5,198.0 82.5,195.5ZM266.9,108.5 270.5,108.8 272.5,109.5 281.5,118.0 284.4,124.0 284.7,126.0 283.3,128.0 279.0,131.9 276.5,132.6 269.5,132.8 263.0,129.7 257.5,125.5 257.1,123.5 258.3,119.0 258.6,114.5 263.5,110.1ZM544.3,120.5 552.5,121.0 556.5,123.1 564.0,131.9 564.6,135.0 564.2,137.5 561.0,139.2 556.0,143.5 554.0,144.1 548.0,142.8 538.5,136.7 535.0,131.5 534.5,129.5 534.7,127.5 537.0,124.5 541.5,121.5ZM162.5,426.5 168.0,426.4 179.5,427.6 197.0,430.5 199.5,431.5 201.3,434.5 202.2,442.0 201.0,445.0 197.3,450.5 197.5,453.0 210.4,464.5 225.5,471.4 227.5,471.4 229.5,470.4 231.9,468.5 233.4,466.5 235.2,457.0 236.1,447.5 238.0,443.5 241.0,439.2 242.5,438.3 244.0,438.5 252.0,441.9 267.1,454.5 272.9,465.5 277.9,477.0 282.6,483.0 297.5,499.0 302.8,505.5 303.5,507.0 303.3,509.0 300.0,518.4 297.5,519.9 284.0,522.4 272.0,521.0 259.5,517.4 248.0,518.3 243.0,518.2 223.0,516.2 219.0,514.6 201.5,505.5 180.5,499.8 177.5,498.3 170.8,493.5 164.0,485.8 155.5,478.2 144.4,464.5 142.6,461.5 141.3,457.5 141.3,454.5 145.7,441.0 151.0,431.0 153.5,428.8ZM124.8,455.0 133.0,454.8 134.5,455.5 135.5,457.5 136.7,463.0 136.5,464.8 131.8,470.0 129.5,471.5 127.0,471.3 122.5,469.5 121.3,468.0 119.9,464.0 119.8,462.0 120.3,460.5 123.0,456.4Z" fill="#e0b9bf" fill-rule="evenodd"/>
<path d="M435.9,66.0 450.4,66.0 450.6,74.5 452.0,81.2 454.0,82.6 462.1,85.0 463.0,86.0 464.7,91.5 470.0,94.8 470.9,96.0 472.3,111.5 473.5,114.2 478.3,119.5 484.5,124.3 495.0,126.7 501.2,132.0 505.5,137.7 514.0,140.2 516.0,141.3 518.9,145.0 518.6,146.5 517.5,148.2 515.5,149.3 507.5,151.0 495.0,152.7 491.5,152.7 485.0,150.7 477.0,155.0 472.5,156.0 470.5,155.2 467.6,152.0 467.6,146.5 466.0,145.2 453.0,142.8 430.5,142.8 429.0,143.2 428.0,144.5 427.6,157.0 427.0,158.3 425.7,159.0 401.5,159.3 388.0,160.3 380.5,160.2 378.8,159.5 377.9,157.5 379.0,155.5 389.5,149.4 396.7,143.0 397.5,125.0 399.0,118.9 400.3,117.0 411.5,110.1 416.5,109.0 422.5,108.7 433.5,106.4 445.0,102.2 451.5,98.9 453.2,97.5 453.3,96.0 451.0,94.7 438.0,91.7 417.0,89.9 414.0,87.6 409.5,87.1 405.0,85.9 402.4,84.0 402.2,83.0 402.8,82.0 407.5,80.0 424.5,79.7 428.0,78.7 432.0,75.5ZM481.5,138.0 474.5,139.6 473.5,141.5 474.3,143.5 477.0,145.2 480.5,146.0 488.0,145.2 490.1,143.5 490.8,141.0 489.8,139.5ZM427.0,126.9 424.5,127.9 423.2,129.5 422.9,132.0 424.0,133.8 426.0,135.0 428.0,135.5 432.5,134.5 434.5,133.3 435.4,131.0 434.5,128.8 430.5,126.7ZM473.2,66.0 483.5,66.0 484.9,78.0 485.8,81.0 491.0,83.6 495.0,84.6 502.5,82.7 507.5,80.0 508.8,77.5 511.6,66.0 543.0,66.0 544.8,79.5 546.4,82.0 549.5,85.1 550.5,87.5 550.9,95.0 550.0,101.1 549.0,102.1 543.5,103.6 538.5,103.9 520.5,101.3 504.5,100.3 496.0,102.4 491.0,106.0 489.5,106.2 488.5,104.8 485.2,94.5 479.9,88.5 472.4,82.0ZM592.9,81.0 594.5,80.8 596.5,81.6 598.0,82.6 599.0,84.2 599.0,87.0 595.6,89.5 591.5,89.2 590.5,88.5 589.8,87.0 589.8,84.5ZM267.9,84.5 270.5,84.8 273.9,88.5 274.4,90.5 273.1,92.5 260.0,97.1 257.5,96.8 254.5,95.1 254.7,92.5 257.0,88.9 263.5,85.7ZM311.4,85.0 313.0,85.4 315.1,87.0 317.1,91.0 316.9,92.5 315.6,94.5 313.0,95.8 310.7,95.0 308.9,91.5 309.2,87.0 310.3,85.5ZM374.3,92.0 379.0,92.3 380.5,93.5 382.2,96.0 383.0,103.0 381.0,110.0 378.7,113.0 362.8,127.0 355.8,140.0 351.7,145.0 349.8,152.0 347.5,156.2 343.0,159.1 340.5,159.6 328.5,153.8 320.0,153.1 318.0,152.0 314.7,147.5 310.5,138.5 311.0,136.0 314.7,130.5 319.5,126.6 328.5,124.9 344.5,119.2 345.8,118.0 347.2,114.5 348.5,106.0 353.5,100.4 361.5,95.0 369.0,92.8ZM220.3,100.0 223.5,100.0 225.3,101.0 228.0,105.5 229.1,111.0 228.9,115.0 225.3,124.5 224.8,127.5 225.0,137.0 226.7,144.5 226.6,152.0 225.6,154.5 223.0,157.2 216.2,160.5 205.2,168.0 193.0,173.5 190.0,174.2 183.0,174.3 176.0,173.2 171.5,171.0 170.0,168.5 171.0,166.5 176.0,162.2 177.8,158.5 175.6,151.0 174.5,141.5 174.0,140.3 173.0,139.5 168.0,140.6 160.0,143.9 149.0,152.0 147.4,157.5 147.1,167.0 146.1,172.5 142.6,178.5 138.6,182.5 131.5,186.5 114.5,191.8 101.5,196.7 97.0,199.0 94.2,202.0 92.5,207.0 90.1,209.0 89.9,210.5 92.2,212.5 98.7,216.0 101.7,222.5 107.6,229.5 108.4,232.0 108.4,235.0 108.0,237.0 106.0,240.5 102.0,243.1 99.5,247.2 98.0,248.5 90.7,251.5 89.7,253.0 89.5,255.0 91.2,258.0 94.0,259.7 98.8,261.5 104.0,266.0 108.0,270.5 109.0,274.1 109.2,277.0 106.5,282.7 105.0,283.3 102.5,283.0 99.0,279.8 97.0,276.9 93.0,267.5 90.5,265.3 86.0,263.7 83.5,264.3 79.0,266.4 76.5,265.5 75.8,264.5 75.9,263.0 78.8,257.0 79.2,255.0 78.0,252.6 75.5,249.8 68.5,248.0 56.0,246.8 56.0,239.9 65.5,239.5 69.0,237.3 70.0,235.0 69.1,232.0 67.0,230.4 62.5,229.2 56.0,229.1 56.0,156.9 63.5,157.2 69.5,155.9 73.0,154.4 85.5,151.6 94.5,146.4 105.0,139.0 109.5,136.7 122.0,133.3 129.5,133.7 133.0,132.5 133.8,131.5 133.5,129.5 127.5,118.3 126.1,114.5 127.7,112.0 132.3,109.5 135.5,108.8 141.0,108.8 156.0,111.6 164.0,111.0 167.5,111.3 169.6,112.5 175.5,120.2 177.5,121.5 179.0,121.6 191.0,115.9 194.5,113.0 198.9,107.5 205.0,103.5 213.0,101.1ZM80.0,193.4 76.0,195.2 72.7,198.0 71.7,200.0 71.1,204.5 71.5,207.0 74.1,211.0 76.0,212.3 78.0,212.3 80.5,211.4 84.5,208.6 85.3,207.0 86.6,199.5 86.2,197.0 83.5,193.6 82.0,193.1ZM267.2,114.0 269.5,113.8 273.0,114.5 279.0,118.3 279.9,120.5 280.1,123.0 279.5,124.5 277.5,126.7 275.0,127.7 270.5,127.6 266.0,125.5 262.5,123.0 262.1,121.0 262.9,117.5 264.8,115.5ZM544.2,126.0 551.0,125.9 556.0,126.9 557.5,127.9 559.6,135.5 558.5,138.0 555.5,141.2 554.5,141.6 553.0,141.0 548.5,136.9 541.2,132.0 540.4,130.5 540.4,129.0 541.7,127.5ZM297.8,159.5 300.4,160.0 302.9,162.5 302.7,165.0 301.0,166.8 298.0,166.6 296.0,164.8 295.5,161.2 296.5,160.0ZM162.1,429.5 168.0,429.1 177.0,430.0 198.0,434.1 199.0,436.0 198.3,441.5 192.0,447.5 189.5,451.5 189.7,453.5 191.7,457.5 193.7,459.5 200.5,463.8 219.0,473.2 226.0,475.6 228.5,475.3 231.5,473.7 233.8,472.0 235.2,470.0 238.2,460.0 239.5,448.0 241.9,443.5 243.0,442.4 244.5,442.0 249.6,444.0 264.5,455.6 270.0,466.2 274.2,476.0 279.2,484.0 295.0,500.3 299.7,506.0 300.2,508.0 299.0,510.5 297.5,512.7 296.0,513.6 284.5,514.4 272.0,512.1 260.0,508.9 247.0,509.4 234.5,509.0 224.0,506.8 203.9,497.0 181.0,491.4 174.5,486.9 168.9,479.5 159.5,473.5 154.0,468.3 148.0,461.0 145.2,455.5 145.3,452.5 148.9,441.5 153.0,433.8 155.5,431.3Z" fill="#ffffff" fill-rule="evenodd"/>
<path d="M436.1,66.0 450.3,66.0 452.0,81.3 453.5,82.4 463.0,85.2 463.2,87.5 461.5,92.0 456.0,95.9 453.5,96.7 438.0,92.4 416.0,90.6 415.1,90.0 414.5,87.7 413.8,87.0 404.5,85.1 402.5,83.5 402.5,82.5 403.1,82.0 407.0,80.7 424.0,80.7 426.7,80.0 431.8,76.5ZM511.7,66.0 541.4,66.0 543.8,79.5 549.4,84.5 550.2,86.0 551.2,95.0 549.9,102.0 548.5,102.7 538.0,102.8 522.0,100.5 508.5,95.0 503.2,89.5 501.5,88.5 490.5,91.1 488.5,90.9 486.5,85.0 486.5,83.6 487.0,83.1 495.5,85.1 505.5,81.6 508.0,80.2ZM593.1,81.0 594.5,81.0 598.1,82.5 599.2,83.5 600.1,85.5 600.0,87.5 596.0,90.7 591.0,90.0 589.8,88.5 589.2,86.0 589.4,84.5ZM311.5,84.5 313.0,84.9 316.0,87.0 318.1,90.5 317.7,93.0 315.0,96.1 311.0,96.1 308.5,93.0 308.9,87.5 310.1,85.5ZM267.3,85.5 270.0,85.5 273.2,89.0 273.6,90.5 272.5,92.3 259.5,96.3 257.0,95.7 254.8,94.5 254.7,93.0 257.1,89.5ZM373.7,92.5 378.7,92.5 382.0,97.0 382.7,102.5 380.5,110.0 379.2,112.0 374.0,117.1 363.0,120.1 358.4,124.5 357.5,127.0 356.0,136.5 351.2,144.0 349.5,151.0 347.0,155.8 342.5,158.4 340.5,158.7 328.0,153.0 320.5,152.7 318.5,151.7 315.0,147.2 311.3,138.5 311.7,136.5 314.8,131.5 319.8,127.0 328.5,125.5 345.5,119.5 346.5,118.1 347.1,115.5 348.1,106.0 353.3,100.5 361.0,95.5 369.0,93.0ZM219.8,100.0 223.5,99.9 225.0,100.9 228.8,109.0 229.7,114.0 229.1,116.5 225.9,122.5 224.4,128.0 226.2,144.0 226.2,151.0 225.8,153.5 224.0,156.0 216.5,159.2 210.0,162.8 200.5,161.8 194.0,161.8 187.5,162.4 177.0,164.7 175.8,164.0 175.4,162.5 177.5,159.0 177.9,157.5 175.9,152.5 174.6,142.5 173.8,140.0 172.5,139.6 169.0,140.3 160.5,144.0 152.5,149.5 149.2,152.5 147.4,158.0 147.2,168.0 146.5,173.0 144.0,178.0 139.5,183.2 131.5,187.0 114.0,192.4 100.8,197.5 96.3,200.5 94.3,203.5 93.0,207.5 90.3,209.0 90.4,210.5 93.0,213.7 98.7,217.0 100.5,221.0 107.0,229.5 108.3,234.0 108.4,236.0 106.8,239.5 101.7,243.5 99.0,248.0 95.9,250.0 91.0,251.2 87.0,249.8 85.5,249.9 80.0,253.2 76.5,249.1 75.5,248.6 72.0,248.6 63.5,246.9 56.0,246.3 56.0,239.2 65.0,239.0 68.3,237.0 69.3,235.5 68.5,232.5 67.0,231.1 62.5,229.9 56.0,229.8 56.0,156.7 64.0,156.6 72.0,154.9 79.0,154.1 83.5,152.9 87.2,151.5 96.5,146.1 105.0,139.5 109.5,137.2 116.0,136.0 122.5,133.7 129.5,134.2 134.0,132.5 134.8,131.0 134.0,128.5 129.9,122.0 126.7,114.5 127.3,113.0 129.5,110.8 133.5,109.2 136.5,108.5 142.0,108.5 146.0,109.0 156.0,111.7 163.0,111.2 168.0,111.4 170.2,113.5 174.9,120.5 177.0,122.0 178.5,122.4 185.0,119.6 192.5,115.1 195.1,113.0 198.5,108.0 204.0,104.5 212.9,101.5ZM81.0,193.9 76.5,195.4 72.4,200.0 72.0,206.5 74.3,210.5 75.5,211.6 77.5,211.6 80.4,210.5 84.9,204.0 86.0,199.0 85.8,197.5 83.5,194.2ZM118.0,170.8 106.6,179.5 106.3,181.0 113.0,185.0 121.5,186.3 129.8,185.0 134.1,181.5 134.4,180.5 133.8,179.5 124.5,172.4 122.5,171.4ZM192.5,140.8 190.4,142.0 189.6,143.5 193.0,148.2 205.5,157.3 207.5,157.3 209.9,155.5 210.2,153.5 207.5,147.5 201.0,142.8 194.5,140.9ZM441.7,108.0 448.0,107.8 459.5,111.3 468.5,118.6 469.2,119.5 469.0,120.5 462.0,124.7 453.0,120.7 451.0,120.3 428.5,124.6 427.8,126.5 427.7,151.0 426.8,153.0 408.0,153.1 401.0,148.1 398.2,143.0 396.3,136.0 397.4,124.5 398.5,118.5 399.3,117.0 406.0,112.9 414.5,109.4 430.0,109.2ZM267.3,115.0 273.5,114.9 277.6,117.0 279.5,119.5 280.0,122.0 279.6,123.5 276.5,126.4 272.5,127.2 270.0,127.1 266.0,125.0 263.0,122.5 262.6,120.5 263.7,117.5ZM486.2,125.5 489.5,125.3 495.0,127.5 499.7,131.5 500.3,132.5 500.0,133.5 495.0,136.3 486.5,134.7 482.7,131.5 481.9,128.0 482.6,126.5ZM544.4,127.0 555.5,126.8 557.5,127.2 557.7,129.5 555.8,137.5 555.0,139.0 553.5,139.0 549.0,136.0 542.0,132.5 540.6,130.5 540.7,129.5ZM503.3,139.5 506.5,139.3 514.3,141.0 517.5,143.8 517.9,145.5 516.5,147.6 514.5,148.4 496.0,152.1 493.0,151.8 489.3,146.5 489.2,145.0 497.0,141.4ZM478.9,148.0 481.0,147.9 484.3,150.0 484.0,151.5 482.0,153.8 478.0,154.1 476.1,152.5 475.6,150.0ZM90.4,257.5 91.5,257.2 94.5,259.1 104.0,263.3 106.1,265.0 109.3,269.0 110.6,277.0 108.7,281.5 107.0,283.7 105.0,283.9 102.0,283.3 98.9,280.5 95.2,274.5 93.0,267.7 91.5,265.9 86.0,263.7 79.0,266.7 77.5,266.3 76.1,265.0 76.4,263.0 79.0,258.7 79.5,258.7 80.5,260.4 82.0,261.7 84.5,262.9 89.0,260.2ZM162.3,430.0 165.0,429.7 176.5,430.4 198.0,434.7 198.5,436.0 197.4,441.5 191.4,446.5 187.9,451.5 188.0,453.0 190.4,457.0 192.5,459.5 200.0,464.8 219.5,474.3 226.0,476.5 227.5,476.5 232.0,474.6 234.5,473.2 235.5,472.0 239.0,460.5 240.4,448.0 242.8,443.5 244.5,442.4 250.0,444.5 264.0,456.0 268.9,465.0 273.5,476.2 278.5,484.5 294.2,500.5 298.7,506.0 299.0,508.0 297.5,511.2 295.5,512.7 284.0,513.3 272.0,511.1 264.5,508.8 263.7,508.0 264.2,507.0 272.0,501.1 274.2,498.0 273.9,497.0 273.1,496.5 268.5,495.3 266.0,495.3 260.5,497.1 259.9,498.0 259.1,503.0 258.0,504.1 251.5,505.2 244.0,505.2 235.5,504.6 221.5,501.9 218.5,502.7 204.5,496.0 181.4,490.5 175.0,486.0 171.7,481.0 171.5,480.0 171.9,479.5 206.5,483.7 210.5,483.6 213.0,482.0 213.6,481.0 211.0,480.0 203.0,478.9 173.5,475.8 170.6,476.0 169.5,477.9 169.0,477.9 160.5,472.6 154.0,466.7 147.5,458.5 145.9,455.5 145.7,453.5 150.2,440.5 154.7,433.0 156.0,431.9Z" fill="#e6e6e6" fill-rule="evenodd"/>
<path d="M440.9,74.5 443.0,74.8 445.8,77.5 445.2,81.0 444.0,82.5 439.5,82.6 438.0,81.1 437.2,78.0 437.5,76.5ZM355.9,103.0 359.0,102.7 364.5,103.8 365.6,104.5 365.6,106.0 365.0,107.1 364.0,107.6 355.5,107.7 352.7,106.0 352.3,105.0ZM220.3,109.5 222.0,109.0 223.0,109.6 224.8,114.0 224.8,116.0 222.3,121.5 216.5,123.6 213.8,121.0 213.2,119.0 216.2,112.0ZM136.6,110.0 146.0,110.5 148.5,112.0 149.0,113.4 144.0,115.7 137.0,115.7 134.5,115.2 131.7,113.0 132.6,111.5ZM203.3,110.0 208.0,109.9 209.0,110.5 209.6,112.0 210.0,114.0 209.5,115.4 205.0,118.7 200.3,118.0 198.4,115.5 199.3,113.5ZM144.5,139.5 148.0,139.3 153.0,140.2 155.6,143.5 155.7,145.0 149.5,148.1 141.5,147.9 139.0,146.0 138.7,144.5ZM117.3,140.5 120.0,140.3 125.0,141.2 126.8,142.5 127.8,148.0 123.5,152.5 116.0,152.6 114.8,152.0 113.9,150.5 111.9,146.5 111.8,145.0ZM133.4,149.5 135.0,149.5 135.7,151.0 135.7,158.0 135.5,159.0 134.5,159.6 132.1,159.0 131.3,157.5 131.4,151.0 132.0,150.1ZM99.5,153.5 101.5,153.3 109.0,154.8 111.0,156.3 114.7,163.0 114.2,164.5 110.0,169.8 100.0,171.3 94.5,168.9 92.9,167.5 91.7,160.0ZM69.5,239.0 71.5,239.0 75.8,241.5 77.1,244.5 77.0,246.2 75.0,247.0 72.0,247.2 66.5,245.5 65.3,243.0 65.5,241.5ZM97.3,262.5 99.5,262.2 104.0,264.4 108.4,269.5 109.6,277.0 107.6,281.5 106.5,282.7 103.5,282.6 101.5,281.6 98.3,277.5 96.0,273.5 94.3,266.0 95.0,264.4ZM178.4,434.0 189.5,435.1 194.2,437.5 195.2,439.0 190.7,444.0 188.5,444.6 181.6,441.5 178.0,435.5ZM246.3,446.0 248.5,445.6 250.0,446.2 260.0,455.1 267.0,464.9 270.8,476.0 270.6,478.5 267.0,486.8 257.5,491.7 255.0,491.6 247.0,489.2 243.5,480.0 245.6,467.0 241.5,458.1 241.2,456.5 243.2,448.0 244.0,446.9Z" fill="#d9d9d9" fill-rule="evenodd"/>
<path d="M98.2,263.5 100.0,263.3 104.0,265.4 107.6,270.0 108.6,277.0 106.0,281.7 102.5,281.0 99.0,276.6 96.9,273.0 95.6,266.5 96.3,265.0ZM255.4,477.0 257.5,476.8 259.1,479.0 258.5,480.9 257.0,482.2 254.7,482.0 253.6,480.5 253.7,478.5Z" fill="#cccccc" fill-rule="evenodd"/>
<path d="M99.8,265.0 103.6,266.5 105.9,269.5 106.9,274.0 105.5,278.3 104.0,278.4 102.0,277.4 98.5,272.0 97.3,267.0Z" fill="#b8b9b8" fill-rule="evenodd"/>
<path d="M91.3,217.5 93.5,217.4 96.6,221.0 97.5,225.0 95.0,228.6 91.4,224.5 88.9,219.5 89.0,218.5ZM82.3,232.5 84.0,232.2 88.4,235.0 89.5,240.8 90.0,241.0 93.0,239.0 95.0,242.5 94.0,247.0 93.0,247.7 91.1,246.5 90.0,243.0 89.5,242.4 89.0,242.6 84.5,251.5 83.5,250.7 81.4,247.0 78.4,235.5 79.0,234.2Z" fill="#c9e1e7" fill-rule="evenodd"/>
<path d="M82.2,235.5 84.5,235.4 87.5,237.5 86.5,244.0 84.5,247.2 82.0,243.1 80.2,237.5 80.5,236.3Z" fill="#a9c8cd" fill-rule="evenodd"/>
</g>
<g stroke="#000" stroke-opacity="0.62" stroke-width="1" stroke-dasharray="1 1" fill="none" shape-rendering="crispEdges">
<line x1="63.5" y1="73" x2="63.5" y2="636"/>
<line x1="144.5" y1="73" x2="144.5" y2="636"/>
<line x1="226.5" y1="73" x2="226.5" y2="636"/>
<line x1="308.5" y1="73" x2="308.5" y2="636"/>
<line x1="389.5" y1="73" x2="389.5" y2="636"/>
<line x1="471.5" y1="73" x2="471.5" y2="636"/>
<line x1="553.5" y1="73" x2="553.5" y2="636"/>
<line x1="634.5" y1="73" x2="634.5" y2="636"/>
<line x1="716.5" y1="73" x2="716.5" y2="636"/>
<line x1="798.5" y1="73" x2="798.5" y2="636"/>
<line x1="879.5" y1="73" x2="879.5" y2="636"/>
<line x1="961.5" y1="73" x2="961.5" y2="636"/>
<line x1="63" y1="163.5" x2="1018" y2="163.5"/>
<line x1="63" y1="248.5" x2="1018" y2="248.5"/>
<line x1="63" y1="330.5" x2="1018" y2="330.5"/>
<line x1="63" y1="412.5" x2="1018" y2="412.5"/>
<line x1="63" y1="497.5" x2="1018" y2="497.5"/>
<line x1="63" y1="587.5" x2="1018" y2="587.5"/>
</g>
<g clip-path="url(#mapclip)">
<path d="M57.5,499.9 L59.9,498.5 L63.0,496.1 L65.4,493.6 L67.4,491.9 L70.0,489.9 L72.4,487.7 L74.8,485.4 L77.5,482.4 L79.6,479.8 L80.3,477.0 L82.5,473.7 L84.6,470.7 L87.5,467.4 L92.5,469.9 L93.8,467.7 L96.1,465.2 L97.5,462.4 L99.7,459.4 L101.1,457.9 L103.7,454.9 L107.1,451.4 L110.0,448.7 L113.2,447.4 L116.2,445.4 L119.8,445.5 L122.4,444.4 L125.3,446.3 L127.4,448.7 L129.6,450.8 L131.2,453.7 L134.5,453.9 L137.4,454.9 L142.4,452.4 L142.9,448.8 L143.6,446.0 L144.9,442.4 L147.3,439.1 L148.7,436.2 L150.8,433.5 L153.7,431.2 L156.5,430.9 L159.9,430.0 L162.8,429.2 L166.1,429.0 L169.9,428.7 L173.2,429.4 L177.4,430.0 L180.2,429.9 L183.9,430.4 L187.4,431.2 L190.7,429.8 L192.7,428.4 L196.1,426.2 L198.6,422.5 L198.9,426.4 L199.9,430.0 L199.9,433.7 L197.6,436.2 L194.9,438.7 L195.9,441.5 L196.1,444.9 L192.4,447.4 L190.5,449.9 L188.6,452.4 L190.1,455.2 L192.4,457.4 L195.6,459.2 L199.9,461.2 L202.1,463.2 L205.1,464.5 L207.4,466.2 L210.8,467.8 L214.9,469.9 L219.0,472.2 L222.3,473.7 L227.3,476.2 L230.5,475.7 L233.6,474.9 L235.0,471.2 L236.2,467.7 L237.3,464.9 L237.3,461.4 L238.5,458.1 L238.6,454.9 L239.0,452.0 L239.3,448.2 L239.8,444.9 L240.7,441.2 L241.2,437.9 L241.1,434.9 L241.7,431.3 L242.8,428.5 L243.6,425.0 L244.1,421.6 L244.3,417.5 L245.2,421.2 L246.1,425.0 L247.1,427.9 L248.1,431.5 L249.8,434.9 L251.5,437.8 L253.3,440.6 L254.8,443.7 L257.0,445.9 L259.8,448.7 L262.4,450.5 L266.1,452.4 L268.4,456.3 L269.8,459.9 L272.1,463.9 L273.6,467.4 L274.7,470.0 L275.8,473.6 L276.1,476.2 L278.2,479.8 L279.8,483.7 L282.6,487.3 L286.0,489.9 L289.5,492.3 L292.3,494.9 L295.9,497.9 L298.5,499.9 L301.3,503.2 L303.5,506.1 L304.5,508.8 L305.8,511.5 L307.3,514.9 L309.3,517.7 L312.3,519.9 L314.3,523.7 L315.7,526.2 L317.3,529.9 L318.9,533.0 L321.2,535.7 L323.5,538.6 L326.2,540.5 L328.4,543.2 L331.0,544.8M331.2,544.9 L333.7,541.2 L333.5,545.7 L332.5,549.9 L333.6,552.6 L333.9,556.1 L334.9,558.9 L335.0,562.4 L335.3,565.4 L335.8,569.5 L337.0,572.4 L336.2,575.1 L335.7,578.6 L335.7,581.3 L335.0,584.9 L333.3,588.6 L332.5,591.0 L331.2,594.9 L329.4,598.6 L329.3,601.5 L327.5,604.8 L325.3,608.3 L324.6,611.2 L322.5,614.8 L321.2,618.2 L319.2,621.1 L317.5,624.8 L316.5,628.1 L315.9,631.3 L314.6,633.6 L314.0,636.7 L312.5,639.8M146.2,426.2 L148.9,424.8 L152.4,423.0 L156.0,424.3 L159.9,425.5 L163.5,424.1 L166.2,423.0 L169.9,427.5 L167.1,428.1 L163.7,428.7 L159.2,428.6 L154.9,428.0 L151.1,427.8 L147.4,428.7ZM196.9,443.7 L199.9,441.9 L202.4,445.4 L199.9,448.7 L197.4,447.4ZM219.9,467.9 L222.8,466.9 L223.8,469.4 L221.1,470.4ZM132.9,464.9 L134.9,463.9 L135.4,467.4 L133.7,468.4ZM57.5,626.1 L63.0,624.8 L65.9,624.2 L69.4,623.8 L72.3,623.6 L75.0,623.6 L78.3,624.6 L81.6,625.8 L85.0,626.1 L88.6,623.8 L92.5,622.3 L94.5,620.3 L97.3,618.4 L100.0,616.1 L103.3,613.9 L106.7,611.7 L110.0,609.9 L113.3,609.1 L116.5,608.5 L119.7,606.8 L122.4,606.1 L125.7,605.0 L128.7,605.0 L131.5,603.4 L134.9,602.9 L137.9,602.6 L141.1,602.0 L144.9,601.1 L148.2,600.8 L151.7,601.2 L154.9,601.6 L158.3,602.5 L161.8,603.4 L164.9,604.9 L169.0,606.9 L172.4,608.6 L174.7,611.2 L177.4,614.8 L178.6,617.4 L180.5,619.9 L182.4,622.3 L183.5,624.8 L185.4,627.8 L187.4,629.8 L189.0,633.6 L191.1,636.4 L192.4,639.8M194.9,639.8 L199.9,627.3 L207.4,612.3 L208.6,624.8 L206.1,639.8M209.9,639.8 L211.1,627.3 L213.6,632.3 L214.9,639.8M144.9,329.9 L148.5,331.5 L152.4,333.7 L155.6,334.0 L159.9,334.9 L163.9,334.5 L167.4,333.7 L171.7,335.1 L174.9,336.2 L177.3,338.2 L179.9,341.2 L178.6,344.6 L177.4,347.4 L179.9,352.4 L182.6,354.4 L184.9,356.2 L189.9,354.9 L191.9,352.0 L192.7,349.7 L194.9,347.4 L199.9,344.9 L203.3,343.2 L207.4,342.4 L211.7,343.5 L214.9,344.9 L218.7,346.7 L221.5,347.9 L224.8,349.9 L227.8,350.6 L231.2,351.1 L234.8,352.4 L237.7,353.2 L241.2,354.9 L244.8,356.2 L248.4,357.5 L251.9,358.0 L254.8,358.7 L258.3,360.5 L261.3,361.5 L264.8,363.7 L267.3,364.8 L269.8,367.4 L272.3,368.7 L276.2,370.1 L279.8,372.4 L283.1,373.1 L287.3,374.9 L289.6,377.3 L291.0,379.9 L289.8,384.9 L286.8,386.9 L284.8,389.9 L286.8,391.8 L289.5,392.8 L292.3,394.9 L294.0,397.0 L295.4,399.5 L297.3,402.4 L299.7,404.0 L302.0,405.2 L304.8,407.4 L307.2,409.4 L310.0,411.0 L312.3,412.4 L314.5,415.2 L317.3,417.4 L313.7,417.0 L309.8,416.1 L307.7,413.5 L304.6,412.2 L302.3,409.9 L299.9,408.0 L297.6,406.1 L294.8,404.9 L291.6,403.5 L288.1,401.6 L284.8,399.9 L281.0,398.2 L278.4,396.1 L274.8,394.9 L270.6,393.5 L267.3,392.4 L264.0,392.1 L259.8,392.4 L257.5,394.8 L254.8,397.4 L249.8,399.9 L247.1,403.2 L244.8,406.1 L241.7,406.1 L238.1,406.2 L234.8,406.1 L232.2,404.1 L229.8,402.4 L227.9,400.7 L225.4,399.6 L222.3,397.4 L217.4,394.9 L216.8,391.2 L216.1,387.4 L214.1,384.0 L212.4,379.9 L210.8,377.5 L209.2,374.4 L207.4,372.4 L203.8,371.0 L199.9,368.7 L196.3,367.2 L192.4,366.2 L188.1,365.0 L184.9,363.7 L180.8,362.3 L177.4,359.9 L174.8,357.9 L172.4,356.2 L169.9,359.9 L167.6,357.5 L164.9,354.9 L162.4,349.9 L164.6,348.0 L167.4,344.9 L164.1,343.4 L159.9,341.2 L154.9,338.7 L152.8,337.4 L149.9,334.9 L147.5,332.0ZM207.4,396.1 L209.9,391.1 L214.9,389.9 L217.9,393.6 L214.9,398.6 L209.9,399.4ZM294.8,379.9 L298.2,379.1 L301.9,378.4 L304.8,377.4 L308.3,376.3 L311.8,376.2 L314.8,374.9 L317.0,372.8 L319.6,371.8 L322.3,369.9 L325.4,367.7 L328.5,364.9 L333.5,362.9 L333.5,368.7 L330.5,370.2 L327.5,371.5 L324.8,373.7 L322.5,375.2 L319.4,377.1 L317.3,378.6 L313.9,379.8 L310.7,380.7 L307.3,381.6 L303.8,382.0 L300.7,381.4 L297.3,381.6ZM308.5,349.9 L311.5,351.7 L314.2,352.3 L317.3,353.7 L319.8,354.9 L322.1,357.3 L324.8,358.7 L329.0,360.5 L332.2,362.9 L331.7,364.4 L329.3,362.7 L325.8,361.3 L323.5,360.4 L320.5,358.2 L318.0,357.6 L316.0,355.4 L312.5,353.0 L308.0,351.4ZM187.4,336.2 L194.9,337.4 L198.6,339.9 L194.9,339.4 L187.9,337.4ZM186.1,342.4 L194.9,344.9 L196.1,346.4 L187.4,344.2ZM179.4,374.9 L182.4,373.7 L183.9,379.9 L182.4,387.4 L179.4,386.1 L178.4,379.9ZM152.4,392.4 L156.2,387.4 L159.9,388.6 L157.4,394.9 L153.7,396.1ZM131.2,310.0 L129.8,312.3 L127.4,315.0 L125.9,318.1 L125.0,320.7 L123.7,323.7 L122.8,327.5 L122.4,332.4 L124.9,337.4 L127.4,332.4 L128.0,329.0 L128.7,324.9 L132.4,327.4 L134.9,324.9 L133.2,322.2 L131.2,320.0 L132.5,317.3 L133.7,313.7ZM123.7,342.4 L128.7,341.2 L129.9,343.7 L124.9,344.9ZM126.2,357.4 L129.0,355.8 L132.4,354.9 L136.4,354.3 L139.9,354.4 L143.8,356.4 L147.4,357.4 L144.9,360.4 L141.4,360.7 L138.8,360.1 L134.9,359.9 L131.5,360.5 L127.4,361.2ZM113.0,357.9 L116.2,355.9 L121.2,356.9 L121.9,359.9 L117.4,361.4 L113.7,360.4ZM57.5,321.2 L61.0,321.0 L63.1,320.4 L66.6,319.9 L69.1,319.6 L72.5,319.2 L75.2,320.3 L78.9,320.5 L81.4,321.1 L85.0,322.0 L88.6,322.2 L91.9,322.0 L95.0,322.5 L97.7,320.3 L101.2,318.7 L105.5,315.0 L106.2,317.5 L102.7,320.9 L100.0,323.7 L96.5,324.1 L93.3,325.5 L90.0,326.2 L86.8,325.4 L83.7,325.4 L81.1,324.1 L77.5,323.7 L74.6,324.7 L70.5,324.5 L67.5,324.9 L64.6,326.2 L61.3,327.1 L57.5,328.7M63.0,329.9 L65.5,332.3 L67.5,334.9 L71.0,333.5 L75.0,332.4 L77.9,333.5 L81.7,333.9 L85.0,334.9 L87.8,336.2 L91.2,337.4 L89.6,339.4 L87.5,342.4 L83.9,341.9 L80.0,341.2 L77.0,343.1 L75.0,344.9 L76.4,348.5 L77.5,352.4 L80.1,353.8 L82.5,355.7 L85.0,357.4 L83.5,360.7 L82.5,364.9 L83.9,368.3 L85.0,372.4 L87.5,367.4 L88.4,371.0 L90.0,374.9 L87.1,375.2 L83.7,376.2 L80.4,372.6 L77.5,369.9 L76.0,366.2 L74.5,363.3 L73.7,359.9 L72.3,355.7 L70.0,352.4 L65.0,352.4 L65.7,355.0 L66.0,359.2 L65.7,362.1 L66.2,364.9 L67.3,368.0 L69.0,371.3 L70.0,374.9 L67.5,379.9 L65.1,377.7 L63.0,374.9M122.4,396.1 L118.2,397.9 L114.9,399.9 L111.1,402.1 L108.0,404.1 L105.0,406.1 L102.4,408.7 L99.4,410.8 L97.5,412.4 L94.7,413.8 L91.2,416.1 L92.5,412.4 L95.5,410.5 L97.3,408.2 L100.0,406.1 L102.6,404.5 L104.6,402.3 L107.2,400.6 L110.0,398.6 L112.9,397.4 L115.4,395.9 L118.7,394.1ZM57.5,398.6 L61.0,398.7 L63.4,399.1 L66.3,398.9 L69.8,399.7 L72.5,399.9 L75.7,399.1 L79.0,399.6 L81.7,399.3 L85.0,398.6 L88.8,398.3 L92.5,397.4 L96.1,398.2 L99.3,398.0 L102.5,398.6 L106.2,397.0 L110.0,394.9 L114.1,394.1 L117.4,393.6 L116.2,396.1 L112.8,397.0 L110.0,398.1 L107.5,398.6 L104.3,399.0 L100.3,399.3 L97.5,400.4 L93.7,401.1 L90.8,401.2 L87.5,401.1 L84.0,401.5 L81.3,401.8 L78.3,401.9 L75.0,401.9 L71.4,401.7 L68.1,401.7 L64.2,402.4 L61.5,402.0 L57.5,402.4M57.5,409.9 L65.0,409.4 L70.0,411.9 L66.2,414.9 L57.5,414.4M95.0,267.5 L97.5,275.0 L103.7,282.5 L108.7,283.7 L112.5,277.5 L111.2,267.5M63.3,129.2 L64.9,125.4 L66.7,121.7 L69.5,119.1 L71.7,117.5 L76.7,117.0 L78.3,120.0 L77.6,124.3 L76.7,128.3 L75.5,132.3 L74.2,136.7 L73.4,139.7 L71.7,143.3 L69.2,146.7 L66.7,143.3 L65.6,140.5 L64.2,136.7 L63.9,132.5ZM66.7,208.3 L66.7,204.7 L65.8,200.0 L65.8,196.7 L66.7,193.7 L66.5,189.6 L67.5,186.7 L68.1,182.9 L69.1,180.5 L70.0,176.7 L73.5,175.5 L76.7,175.0 L80.8,178.3 L82.1,182.3 L82.5,186.7 L82.6,190.1 L83.3,193.3 L81.2,196.3 L80.0,200.0 L78.4,203.2 L77.6,205.6 L75.8,208.3M77.5,183.7 L80.2,187.7 L82.2,191.1 L80.2,194.4 L76.8,197.1 L75.5,199.8 L76.8,203.2 L80.2,205.2 L83.6,207.2 L87.0,209.9 L91.0,212.0 L95.0,214.0 L98.4,215.3 L99.4,217.3 L96.4,218.3 L92.3,216.7 L88.3,214.9 L84.3,213.6 L80.2,211.5 L76.8,208.9 L74.2,205.2 L72.8,201.2 L73.5,197.1 L75.5,193.1 L76.2,189.0 L74.8,183.7M63.2,191.7 L64.7,193.4 L65.7,197.8 L64.0,198.5 L63.2,196.5M63.2,206.6 L66.7,208.6 L69.4,212.0 L72.1,216.0 L70.8,218.7 L68.1,217.3 L65.4,214.0 L63.2,212.0ZM77.5,207.2 L81.6,206.6 L80.2,209.9 L76.8,210.6ZM82.2,212.6 L84.9,212.0 L86.3,214.0 L83.6,214.9ZM93.7,224.1 L99.1,225.4 L104.5,226.8 L107.2,230.8 L108.8,236.2 L110.1,241.6 L111.9,246.3 L111.2,248.3 L108.5,245.0 L105.8,240.3 L103.1,242.3 L100.4,238.9 L99.1,233.5 L96.4,229.5 L93.7,226.8ZM94.4,238.9 L98.4,241.6 L100.4,247.0 L99.1,251.3 L96.4,250.0 L94.4,244.3ZM76.2,224.1 L81.6,222.7 L85.6,225.4 L87.0,230.8 L82.9,234.9 L78.9,236.2 L76.2,232.2 L74.8,228.1ZM82.9,237.6 L87.0,236.2 L89.0,241.6 L87.6,248.3 L84.3,251.3 L82.2,245.6ZM89.0,234.9 L91.7,236.2 L93.0,243.0 L91.7,250.0 L89.6,247.3 L89.9,240.3ZM93.0,248.3 L97.1,247.7 L97.7,251.0 L94.4,252.4ZM73.5,218.7 L76.2,218.0 L77.3,220.3 L74.6,221.1ZM87.6,225.4 L90.3,224.9 L91.3,227.9 L88.6,228.8ZM88.3,218.7 L92.3,219.4 L95.3,221.7 L93.7,223.4 L90.3,222.1ZM63.2,289.9 L65.4,287.4 L69.4,283.4 L73.5,279.3 L77.5,276.6 L80.2,273.9 L82.9,271.3 L85.6,268.6 L89.0,265.9 L92.3,267.2 L91.7,271.3 L93.7,268.6 L95.7,271.3 L97.7,276.6 L100.4,279.3 L103.1,284.1 L106.5,286.3 L109.2,285.0 L111.2,280.0 L113.2,279.3 L115.5,276.6 L116.6,271.3 L115.5,265.9 L114.2,260.5 L112.3,255.4 L108.8,252.4 L104.7,255.1 L100.4,258.5 L96.7,259.3 L93.7,260.5 L90.2,262.4 L87.0,264.5 L84.5,266.7 L82.0,269.4 L80.2,271.3 L76.2,275.0 L72.1,279.3 L70.3,281.2 L68.1,284.1 L65.2,286.1 L63.2,287.7ZM104.5,255.1 L106.5,260.5 L107.8,265.9 L108.5,271.3 L107.2,265.9 L105.6,260.5M112.8,248.3 L114.2,250.4 L113.6,253.1 L112.3,251.3ZM106.5,246.3 L108.5,248.3 L108.0,251.3 L106.1,249.4ZM58.3,324.3 L61.4,322.8 L64.0,322.8 L67.3,321.1 L70.0,320.2 L73.8,319.8 L76.8,319.7 L80.0,319.3 L82.9,320.1 L87.1,319.5 L90.0,320.2 L94.6,318.9 L98.3,318.5 L101.7,317.1 L104.2,315.2 L105.8,312.7 L105.0,316.0 L102.2,318.2 L99.4,320.5 L96.7,322.7 L92.6,323.2 L88.4,324.0 L85.0,324.3 L80.6,324.7 L77.6,324.2 L73.3,324.3 L70.3,324.6 L67.8,325.9 L64.7,326.4 L61.3,327.0 L58.3,327.7M124.2,312.7 L128.3,311.0 L131.7,309.3 L133.3,312.7 L130.0,316.0 L128.2,319.5 L126.7,322.7 L126.5,326.9 L125.8,330.2 L125.0,334.3 L124.5,330.4 L124.2,326.8 L123.3,322.7 L124.0,319.5 L123.9,315.6ZM749.7,161.7 L756.3,165.0 L758.8,168.3 L755.5,171.7 L751.3,172.5 L748.8,167.5ZM741.3,155.0 L746.3,155.8 L748.8,157.5 L745.5,159.2 L742.2,157.5ZM730.5,150.0 L733.8,149.2 L735.5,151.7 L732.2,152.5ZM714.7,146.7 L718.0,144.2 L721.3,145.0 L720.5,147.5ZM421.1,497.9 L423.6,499.7 L426.6,501.7 L429.9,503.7 L432.9,506.3 L436.1,508.3 L438.6,511.2 L440.8,512.9 L444.1,514.6 L446.1,516.2 L443.6,517.4 L440.5,515.4 L437.8,514.6 L434.9,512.4 L432.5,509.6 L428.6,508.1 L426.1,505.4 L423.2,502.4 L419.9,499.4ZM529.8,478.0 L533.5,474.5 L539.8,475.0 L542.8,478.7 L538.5,482.5 L532.3,482.0ZM539.8,468.0 L549.8,463.7 L554.8,465.0 L549.8,468.7 L542.3,471.2ZM344.7,372.4 L348.5,374.9 L351.1,377.5 L353.5,381.1 L355.5,383.9 L357.2,386.1 L354.7,387.9 L351.7,386.0 L349.7,383.6 L348.0,380.2 L346.0,377.4ZM359.7,384.9 L367.2,387.4 L374.7,391.9 L373.5,392.9 L366.0,389.4 L359.7,386.4ZM361.0,393.6 L367.2,396.1 L373.5,399.9 L368.5,399.9 L362.2,396.1ZM374.7,390.4 L382.2,393.6 L390.9,399.4 L388.9,400.4 L381.0,396.1 L374.7,392.4ZM386.4,406.9 L390.9,404.9 L396.4,407.9 L395.4,411.9 L389.7,412.4 L386.4,409.9ZM394.7,398.6 L398.4,402.4 L403.4,409.4 L401.4,409.9 L397.2,404.9 L393.9,399.9ZM400.9,412.9 L405.9,414.9 L408.9,417.9 L404.7,417.4 L400.9,414.9ZM540.8,468.6 L548.3,466.1 L554.5,464.8 L553.3,468.6 L545.8,471.1Z" fill="none" stroke="#000" stroke-width="1.05" stroke-linejoin="round"/>
<path d="M62.2,105.8 L63.0,103.8 L64.4,101.3 L65.9,99.5 L67.4,97.5 L69.7,95.8 L70.9,93.4 L72.2,90.8 L72.9,88.6 L74.7,85.9 L75.0,83.5 L75.9,80.9 L77.2,78.9 L79.1,77.1 L80.3,75.5 L81.1,74.1 L82.6,72.2" fill="none" stroke="#000" stroke-width="2.2" stroke-linecap="round" stroke-linejoin="round"/>
<path d="M143.1,87.6 L141.3,89.1 L139.4,90.8 L138.2,92.9 L136.4,95.3" fill="none" stroke="#000" stroke-width="2.0" stroke-linecap="round" stroke-linejoin="round"/>
<path d="M134.4,97.1 L132.0,99.0 L130.6,100.0 L129.0,102.7 L128.2,104.5 L127.2,106.9 L126.9,108.5" fill="none" stroke="#000" stroke-width="2.4" stroke-linecap="round" stroke-linejoin="round"/>
<path d="M118.2,107.5 L121.2,108.5 L123.9,109.5" fill="none" stroke="#000" stroke-width="1.6" stroke-linecap="round" stroke-linejoin="round"/>
<path d="M92.6,124.4 L95.0,123.6 L98.3,123.2" fill="none" stroke="#000" stroke-width="2.0" stroke-linecap="round" stroke-linejoin="round"/>
<path d="M102.5,121.9 L104.9,121.7 L106.5,120.9" fill="none" stroke="#000" stroke-width="1.8" stroke-linecap="round" stroke-linejoin="round"/>
<path d="M492.3,630.8 L494.0,632.2 L496.1,632.8 L498.0,634.0 L499.8,635.8" fill="none" stroke="#000" stroke-width="1.6" stroke-linecap="round" stroke-linejoin="round"/>
<g fill="#000"><circle cx="164.9" cy="376.2" r="0.7"/><circle cx="167.9" cy="377.9" r="0.7"/><circle cx="166.2" cy="379.9" r="0.7"/><circle cx="142.4" cy="394.9" r="0.7"/><circle cx="139.9" cy="374.9" r="0.7"/><circle cx="196.1" cy="362.4" r="0.7"/><circle cx="238.6" cy="387.4" r="0.7"/><circle cx="317.3" cy="399.9" r="0.7"/><circle cx="322.3" cy="404.9" r="0.7"/><circle cx="309.8" cy="359.9" r="0.7"/><circle cx="301.0" cy="373.7" r="0.7"/><circle cx="118.7" cy="295.0" r="0.9"/><circle cx="107.5" cy="301.2" r="0.9"/><circle cx="106.2" cy="310.0" r="0.9"/><circle cx="117.4" cy="293.7" r="0.9"/><circle cx="108.7" cy="299.5" r="0.9"/><circle cx="85.9" cy="123.9" r="1.0"/><circle cx="78.4" cy="155.5" r="1.0"/><circle cx="77.6" cy="161.3" r="1.0"/><circle cx="79.1" cy="166.2" r="1.0"/><circle cx="75.9" cy="169.2" r="1.0"/><circle cx="154.8" cy="111.2" r="1.0"/><circle cx="209.0" cy="95.8" r="1.0"/><circle cx="64.0" cy="231.5" r="1.0"/><circle cx="64.9" cy="232.4" r="1.0"/><circle cx="64.0" cy="233.8" r="1.0"/><circle cx="70.1" cy="239.6" r="1.0"/><circle cx="71.5" cy="240.9" r="1.0"/><circle cx="103.1" cy="243.0" r="1.0"/><circle cx="104.2" cy="245.4" r="1.0"/><circle cx="103.4" cy="248.3" r="1.0"/><circle cx="107.2" cy="279.3" r="1.0"/><circle cx="105.8" cy="287.4" r="1.0"/><circle cx="92.3" cy="255.1" r="1.0"/><circle cx="93.2" cy="256.2" r="1.0"/><circle cx="116.7" cy="294.3" r="1.1"/><circle cx="118.3" cy="296.8" r="1.1"/><circle cx="117.5" cy="291.8" r="1.1"/><circle cx="108.3" cy="302.7" r="1.1"/><circle cx="107.5" cy="299.3" r="1.1"/><circle cx="106.7" cy="312.7" r="1.1"/><circle cx="104.2" cy="316.0" r="1.1"/><circle cx="443.6" cy="501.2" r="1.0"/><circle cx="449.9" cy="506.2" r="1.0"/><circle cx="454.9" cy="509.9" r="1.0"/><circle cx="444.9" cy="453.7" r="1.0"/><circle cx="447.4" cy="458.7" r="1.0"/><circle cx="449.9" cy="455.0" r="1.0"/><circle cx="452.4" cy="461.2" r="1.0"/><circle cx="457.4" cy="477.5" r="1.0"/><circle cx="463.6" cy="486.2" r="1.0"/><circle cx="466.1" cy="492.5" r="1.0"/><circle cx="454.9" cy="457.5" r="1.0"/><circle cx="446.1" cy="456.2" r="1.0"/><circle cx="559.8" cy="471.2" r="0.8"/><circle cx="562.3" cy="477.5" r="0.8"/><circle cx="564.3" cy="483.7" r="0.8"/><circle cx="561.0" cy="488.7" r="0.8"/><circle cx="549.8" cy="473.7" r="0.8"/><circle cx="547.3" cy="477.5" r="0.8"/><circle cx="331.0" cy="364.9" r="0.8"/><circle cx="333.5" cy="367.4" r="0.8"/><circle cx="385.9" cy="372.4" r="0.8"/><circle cx="384.7" cy="374.9" r="0.8"/><circle cx="438.4" cy="414.9" r="0.8"/><circle cx="493.3" cy="302.5" r="0.8"/><circle cx="495.8" cy="315.0" r="0.8"/><circle cx="497.1" cy="322.5" r="0.8"/><circle cx="500.8" cy="328.7" r="0.8"/><circle cx="505.8" cy="334.9" r="0.8"/><circle cx="515.8" cy="343.7" r="0.8"/><circle cx="523.3" cy="342.4" r="0.8"/><circle cx="444.6" cy="453.6" r="1.0"/><circle cx="447.1" cy="456.8" r="1.0"/><circle cx="448.4" cy="459.8" r="1.0"/><circle cx="450.9" cy="444.8" r="1.0"/><circle cx="453.4" cy="457.3" r="1.0"/><circle cx="455.9" cy="456.1" r="1.0"/><circle cx="808.7" cy="453.7" r="0.6"/><circle cx="813.7" cy="455.0" r="0.6"/><circle cx="817.5" cy="456.2" r="0.6"/><circle cx="827.5" cy="450.0" r="0.6"/><circle cx="830.0" cy="457.5" r="0.6"/><circle cx="833.7" cy="461.2" r="0.6"/><circle cx="836.2" cy="465.0" r="0.6"/><circle cx="840.0" cy="467.5" r="0.6"/><circle cx="843.7" cy="466.2" r="0.6"/><circle cx="847.4" cy="465.0" r="0.6"/><circle cx="851.2" cy="470.0" r="0.6"/><circle cx="837.5" cy="450.0" r="0.6"/><circle cx="842.5" cy="455.0" r="0.6"/><circle cx="858.7" cy="463.7" r="0.6"/><circle cx="868.7" cy="447.5" r="0.6"/><circle cx="878.7" cy="461.2" r="0.6"/><circle cx="892.4" cy="473.7" r="0.6"/><circle cx="903.6" cy="482.5" r="0.6"/><circle cx="908.6" cy="485.0" r="0.6"/><circle cx="887.4" cy="504.9" r="0.6"/><circle cx="889.9" cy="512.4" r="0.6"/><circle cx="888.7" cy="516.2" r="0.6"/><circle cx="906.1" cy="507.9" r="0.6"/><circle cx="911.1" cy="513.7" r="0.6"/><circle cx="916.1" cy="509.9" r="0.6"/><circle cx="921.1" cy="524.4" r="0.6"/><circle cx="801.2" cy="526.2" r="0.6"/><circle cx="816.2" cy="531.2" r="0.6"/><circle cx="843.7" cy="564.9" r="0.6"/><circle cx="849.9" cy="566.1" r="0.6"/><circle cx="868.7" cy="468.7" r="0.6"/><circle cx="873.7" cy="488.7" r="0.6"/><circle cx="884.9" cy="491.2" r="0.6"/><circle cx="889.9" cy="490.0" r="0.6"/><circle cx="809.8" cy="453.7" r="0.6"/><circle cx="814.8" cy="455.0" r="0.6"/><circle cx="819.8" cy="456.2" r="0.6"/><circle cx="824.8" cy="460.0" r="0.6"/><circle cx="828.5" cy="462.5" r="0.6"/><circle cx="761.1" cy="462.5" r="0.6"/><circle cx="766.1" cy="468.7" r="0.6"/><circle cx="781.0" cy="465.0" r="0.6"/><circle cx="786.0" cy="469.5" r="0.6"/><circle cx="801.0" cy="471.2" r="0.6"/><circle cx="803.5" cy="473.0" r="0.6"/><circle cx="732.3" cy="513.7" r="0.6"/><circle cx="773.6" cy="519.9" r="0.6"/><circle cx="801.8" cy="526.2" r="0.6"/><circle cx="817.3" cy="531.2" r="0.6"/><circle cx="717.4" cy="507.4" r="0.6"/><circle cx="569.5" cy="579.9" r="0.6"/><circle cx="592.5" cy="496.2" r="0.6"/><circle cx="596.2" cy="498.7" r="0.6"/><circle cx="598.7" cy="485.0" r="0.6"/><circle cx="602.5" cy="486.2" r="0.6"/><circle cx="587.5" cy="458.7" r="0.6"/><circle cx="603.7" cy="462.5" r="0.6"/><circle cx="565.0" cy="477.5" r="0.6"/><circle cx="562.5" cy="486.2" r="0.6"/><circle cx="564.5" cy="490.0" r="0.6"/><circle cx="443.7" cy="169.5" r="0.6"/><circle cx="462.5" cy="209.9" r="0.6"/><circle cx="448.7" cy="254.9" r="0.6"/><circle cx="455.0" cy="267.4" r="0.6"/><circle cx="461.2" cy="269.9" r="0.6"/><circle cx="467.5" cy="282.4" r="0.6"/><circle cx="455.0" cy="284.9" r="0.6"/><circle cx="460.0" cy="292.3" r="0.6"/><circle cx="480.0" cy="257.4" r="0.6"/><circle cx="481.2" cy="272.4" r="0.6"/><circle cx="486.2" cy="279.9" r="0.6"/><circle cx="493.7" cy="302.3" r="0.6"/><circle cx="496.2" cy="314.8" r="0.6"/><circle cx="497.9" cy="322.3" r="0.6"/><circle cx="501.2" cy="327.3" r="0.6"/><circle cx="465.0" cy="248.6" r="0.6"/><circle cx="638.6" cy="191.2" r="0.6"/><circle cx="697.3" cy="277.4" r="0.6"/><circle cx="581.1" cy="323.6" r="0.6"/><circle cx="272.4" cy="173.7" r="0.6"/><circle cx="272.9" cy="179.9" r="0.6"/><circle cx="273.4" cy="187.4" r="0.6"/><circle cx="272.9" cy="194.9" r="0.6"/><circle cx="272.4" cy="202.4" r="0.6"/><circle cx="271.2" cy="208.7" r="0.6"/><circle cx="443.5" cy="168.7" r="0.6"/><circle cx="211.2" cy="251.1" r="0.6"/><circle cx="374.8" cy="273.6" r="0.6"/><circle cx="413.6" cy="286.1" r="0.6"/><circle cx="348.6" cy="298.6" r="0.6"/><circle cx="337.4" cy="286.1" r="0.6"/><circle cx="449.8" cy="254.9" r="0.6"/><circle cx="454.8" cy="263.6" r="0.6"/><circle cx="461.0" cy="269.9" r="0.6"/><circle cx="459.8" cy="292.3" r="0.6"/><circle cx="464.8" cy="249.9" r="0.6"/></g>
<path d="M199.9,291.2C201.5,290.6 206.1,287.9 209.9,287.5C213.6,287.1 218.6,287.1 222.3,288.7C226.1,290.4 228.6,295.2 232.3,297.5C236.1,299.8 240.2,301.8 244.8,302.5C249.4,303.1 255.2,302.1 259.8,301.2C264.4,300.4 268.1,298.1 272.3,297.5C276.5,296.9 280.6,296.9 284.8,297.5C289.0,298.1 293.1,300.4 297.3,301.2C301.4,302.1 306.0,301.8 309.8,302.5C313.5,303.1 317.3,302.9 319.8,305.0C322.3,307.0 322.9,311.2 324.8,315.0C326.6,318.7 330.0,325.4 331.0,327.4M234.8,349.9C234.6,347.8 234.0,341.8 233.6,337.4C233.2,333.1 231.3,327.0 232.3,323.7C233.4,320.4 236.1,319.3 239.8,317.5C243.6,315.6 249.8,313.9 254.8,312.5C259.8,311.0 264.8,308.5 269.8,308.7C274.8,308.9 281.0,312.5 284.8,313.7C288.5,315.0 289.0,316.2 292.3,316.2C295.6,316.2 300.2,313.7 304.8,313.7C309.4,313.7 317.3,315.8 319.8,316.2M63.0,439.8C65.0,439.0 70.5,436.5 75.0,434.8C79.5,433.2 84.1,431.7 90.0,429.9C95.8,428.0 104.1,425.7 110.0,423.6C115.8,421.5 120.8,419.2 124.9,417.4C129.1,415.5 131.6,413.6 134.9,412.4C138.3,411.1 140.8,410.9 144.9,409.9C149.1,408.8 155.3,407.0 159.9,406.1C164.5,405.3 168.2,404.9 172.4,404.9C176.6,404.9 180.3,405.5 184.9,406.1C189.5,406.7 195.7,407.8 199.9,408.6C204.0,409.5 206.5,409.2 209.9,411.1C213.2,413.0 217.4,418.8 219.9,419.9C222.3,420.9 222.3,418.6 224.8,417.4C227.3,416.1 231.5,413.0 234.8,412.4C238.2,411.7 243.2,414.2 244.8,413.6C246.5,413.0 243.2,409.9 244.8,408.6C246.5,407.4 252.3,406.3 254.8,406.1C257.3,405.9 257.7,405.9 259.8,407.4C261.9,408.8 264.8,412.0 267.3,414.9C269.8,417.8 271.9,421.5 274.8,424.9C277.7,428.2 281.0,431.9 284.8,434.8C288.5,437.8 293.1,440.7 297.3,442.3C301.4,444.0 304.1,443.4 309.8,444.8C315.4,446.3 327.5,450.0 331.0,451.1M126.2,402.4C126.8,403.4 128.5,407.0 129.9,408.6C131.4,410.3 134.1,411.7 134.9,412.4M106.2,408.6C106.8,409.9 108.7,413.8 110.0,416.1C111.2,418.4 113.1,421.3 113.7,422.4M141.7,276.0C141.9,274.3 141.9,268.8 143.3,266.0C144.7,263.2 147.8,262.4 150.0,259.3C152.2,256.3 153.9,251.0 156.7,247.7C159.4,244.3 163.3,241.3 166.7,239.3C170.0,237.3 173.1,236.4 176.7,235.7C180.3,235.0 186.4,235.2 188.3,235.2M141.7,276.0C141.5,277.7 140.8,282.7 140.8,286.0C140.8,289.3 141.3,292.7 141.7,296.0C142.1,299.3 142.5,303.1 143.3,306.0C144.2,308.9 144.4,312.1 146.7,313.5C148.9,314.9 153.3,314.4 156.7,314.7C160.0,314.9 163.9,315.8 166.7,315.2C169.4,314.6 170.6,312.8 173.3,311.0C176.1,309.2 180.3,306.4 183.3,304.3C186.4,302.2 189.2,300.4 191.7,298.5C194.2,296.6 196.7,294.2 198.3,292.7C200.0,291.1 201.1,289.9 201.7,289.3M188.3,235.2C188.9,236.7 190.8,240.9 191.7,244.3C192.5,247.8 192.6,251.8 193.3,256.0C194.0,260.2 194.9,265.2 195.8,269.3C196.8,273.5 198.2,277.7 199.2,281.0C200.1,284.3 201.2,287.9 201.7,289.3M188.3,235.2C189.4,233.9 191.9,229.8 195.0,227.7C198.1,225.6 202.8,223.9 206.7,222.7C210.6,221.4 214.2,220.9 218.3,220.2C222.5,219.5 228.9,218.6 231.7,218.5C234.4,218.4 234.2,219.6 234.7,219.8M183.3,264.3C183.1,265.2 182.4,267.8 181.7,269.3C181.0,270.9 179.6,272.8 179.2,273.5M236.2,219.9C236.8,217.8 238.6,210.7 240.0,207.4C241.3,204.1 243.8,203.7 244.5,199.9C245.1,196.2 244.7,189.9 243.7,184.9C242.8,179.9 239.8,174.5 238.7,170.0C237.7,165.4 236.0,161.6 237.5,157.5C238.9,153.3 243.7,148.9 247.5,145.0C251.2,141.0 256.4,136.3 259.9,133.7C263.5,131.2 265.4,129.7 268.7,129.5C272.0,129.3 276.4,130.3 279.9,132.5C283.5,134.7 287.0,138.7 289.9,142.5C292.8,146.2 295.5,150.8 297.4,155.0C299.3,159.1 300.2,162.5 301.2,167.5C302.1,172.5 302.9,179.1 302.9,184.9C302.9,190.8 302.1,197.0 301.2,202.4C300.2,207.8 299.1,212.8 297.4,217.4C295.7,222.0 292.6,226.9 291.2,229.9C289.7,232.9 289.1,234.5 288.7,235.4M244.5,199.9C245.8,201.2 249.5,205.1 252.5,207.4C255.4,209.7 259.1,211.6 262.4,213.7C265.8,215.7 269.1,218.0 272.4,219.9C275.8,221.8 279.3,223.0 282.4,224.9C285.5,226.8 289.7,230.1 291.2,231.1M236.2,219.9C236.8,221.2 238.1,224.7 240.0,227.4C241.8,230.1 245.0,234.1 247.5,236.1C250.0,238.2 252.0,239.5 254.9,239.9C257.9,240.3 261.2,239.3 264.9,238.6C268.7,238.0 273.5,236.7 277.4,236.1C281.4,235.6 286.8,235.5 288.7,235.4M288.7,235.4C290.5,234.5 296.0,231.0 299.9,229.9C303.9,228.8 307.8,228.4 312.4,228.6C317.0,228.9 322.8,230.3 327.4,231.1C332.0,232.0 335.7,232.6 339.9,233.6C344.0,234.7 348.6,236.1 352.4,237.4C356.1,238.6 359.4,240.1 362.3,241.1C365.3,242.2 368.6,243.2 369.8,243.6M369.8,243.6C370.3,242.2 370.7,238.4 372.3,234.9C374.0,231.4 377.3,226.2 379.8,222.4C382.3,218.7 384.4,214.9 387.3,212.4C390.2,209.9 393.6,208.5 397.3,207.4C401.1,206.4 405.6,206.2 409.8,206.2C414.0,206.2 418.3,207.6 422.3,207.4C426.2,207.2 431.2,206.4 433.5,204.9C435.8,203.5 433.7,200.8 436.0,198.7C438.3,196.6 443.3,194.5 447.3,192.4C451.2,190.4 455.8,188.1 459.8,186.2C463.7,184.3 469.1,182.0 471.0,181.2M369.8,243.6C370.7,245.1 372.3,249.7 374.8,252.4C377.3,255.1 381.1,257.8 384.8,259.9C388.6,262.0 392.7,264.0 397.3,264.9C401.9,265.7 407.7,264.0 412.3,264.9C416.9,265.7 421.3,267.8 424.8,269.9C428.3,271.9 431.8,274.0 433.5,277.4C435.3,280.7 435.1,285.3 435.3,289.8C435.5,294.4 434.9,302.3 434.8,304.8M470.0,181.2C471.2,181.6 474.8,181.8 477.5,183.7C480.2,185.6 483.9,188.9 486.2,192.4C488.5,196.0 489.5,200.8 491.2,204.9C492.9,209.1 494.5,213.3 496.2,217.4C497.9,221.6 499.7,225.7 501.2,229.9C502.7,234.1 504.0,237.8 505.4,242.4C506.9,247.0 508.4,252.4 509.9,257.4C511.4,262.4 513.4,268.2 514.4,272.4C515.5,276.5 515.9,280.7 516.2,282.4M460.0,315.3 L458.7,327.3M435.4,305.0C433.8,306.2 429.6,310.8 425.9,312.5C422.2,314.1 417.6,315.0 413.4,315.0C409.3,315.0 405.1,313.7 400.9,312.5C396.8,311.2 392.2,308.3 388.4,307.5C384.7,306.6 380.7,306.2 378.5,307.5C376.2,308.7 375.5,311.6 374.7,315.0C373.9,318.3 374.5,323.5 373.5,327.4C372.4,331.4 369.3,336.8 368.5,338.7M331.0,336.2C333.5,336.6 341.4,338.1 346.0,338.7C350.6,339.3 354.7,339.8 358.5,339.9C362.2,340.1 364.3,339.5 368.5,339.4C372.6,339.4 378.9,338.9 383.5,339.4C388.0,339.9 392.2,340.7 395.9,342.4C399.7,344.2 403.4,346.6 405.9,349.9C408.4,353.3 410.1,360.3 410.9,362.4M435.4,305.0C436.7,305.8 440.0,308.3 443.4,310.0C446.8,311.6 452.1,314.1 455.9,315.0C459.6,315.8 464.2,315.0 465.9,315.0M425.9,320.0C424.9,321.6 420.7,326.2 419.7,329.9C418.6,333.7 418.6,338.7 419.7,342.4C420.7,346.2 423.2,349.5 425.9,352.4C428.6,355.3 432.6,358.3 435.9,359.9C439.2,361.5 442.8,361.9 445.9,361.9C449.0,361.9 453.0,362.7 454.6,359.9C456.3,357.1 455.3,349.9 455.9,344.9C456.4,339.9 457.3,334.5 457.9,329.9C458.5,325.4 459.3,319.5 459.6,317.5M465.9,315.0C467.1,314.5 471.7,315.0 473.4,312.5C475.0,310.0 474.2,303.1 475.9,300.0C477.5,296.9 480.0,295.4 483.4,293.7C486.7,292.1 492.1,291.0 495.8,290.0C499.6,288.9 502.9,288.3 505.8,287.5C508.8,286.7 512.1,285.4 513.3,285.0M515.8,270.0C515.8,271.7 515.6,277.3 515.8,280.0C516.0,282.7 516.0,283.3 517.1,286.2C518.1,289.1 520.6,293.5 522.1,297.5C523.5,301.4 523.5,306.8 525.8,310.0C528.1,313.1 532.9,314.3 535.8,316.2C538.7,318.1 541.0,318.9 543.3,321.2C545.6,323.5 548.1,326.4 549.5,329.9C551.0,333.5 551.4,338.3 552.0,342.4C552.7,346.6 553.1,351.4 553.3,354.9C553.5,358.5 553.3,362.2 553.3,363.7M410.9,363.7C408.8,364.3 402.6,366.6 398.4,367.4C394.3,368.2 390.1,368.0 385.9,368.7C381.8,369.3 377.2,369.3 373.5,371.2C369.7,373.0 366.8,377.2 363.5,379.9C360.1,382.6 356.2,385.1 353.5,387.4C350.8,389.7 347.7,390.7 347.2,393.6C346.8,396.5 349.1,401.3 351.0,404.9C352.9,408.4 356.0,411.5 358.5,414.9C361.0,418.2 364.1,421.5 366.0,424.9C367.8,428.2 369.7,431.5 369.7,434.8C369.7,438.2 366.6,443.2 366.0,444.8M410.9,363.7C411.8,364.9 413.4,369.3 415.9,371.2C418.4,373.0 423.0,373.0 425.9,374.9C428.8,376.8 430.9,380.9 433.4,382.4C435.9,383.9 437.6,383.4 440.9,383.6C444.2,383.9 449.6,383.0 453.4,383.6C457.1,384.3 460.5,385.5 463.4,387.4C466.3,389.3 468.0,392.6 470.9,394.9C473.8,397.2 477.5,399.3 480.9,401.1C484.2,403.0 487.5,403.8 490.9,406.1C494.2,408.4 499.3,411.7 500.8,414.9C502.4,418.0 500.5,420.7 500.3,424.9C500.2,429.0 499.9,437.3 499.8,439.8M455.9,362.4C457.5,362.8 462.1,364.9 465.9,364.9C469.6,364.9 474.6,363.7 478.4,362.4C482.1,361.2 485.6,357.0 488.4,357.4C491.1,357.8 491.7,363.7 494.6,364.9C497.5,366.1 501.5,364.5 505.8,364.4C510.2,364.3 515.8,364.3 520.8,364.4C525.8,364.5 530.4,365.0 535.8,364.9C541.2,364.8 550.4,363.9 553.3,363.7M494.6,364.9C494.4,366.6 493.1,370.7 493.3,374.9C493.6,379.1 494.2,385.5 495.8,389.9C497.5,394.3 500.8,397.8 503.3,401.1C505.8,404.5 507.9,408.2 510.8,409.9C513.7,411.5 519.2,410.9 520.8,411.1M520.8,411.1C518.3,411.7 509.2,413.0 505.8,414.9C502.5,416.7 501.7,421.1 500.8,422.4M520.8,411.1C522.5,411.7 527.9,412.6 530.8,414.9C533.7,417.2 535.8,421.5 538.3,424.9C540.8,428.2 543.3,431.5 545.8,434.8C548.3,438.2 550.8,441.5 553.3,444.8C555.8,448.2 557.9,452.3 560.8,454.8C563.7,457.3 568.1,458.4 570.8,459.8C573.5,461.3 576.0,462.9 577.0,463.6M553.3,363.7C554.5,365.1 558.3,369.3 560.8,372.4C563.3,375.5 565.8,379.5 568.3,382.4C570.8,385.3 573.9,387.0 575.8,389.9C577.6,392.8 578.9,396.5 579.5,399.9C580.1,403.2 581.0,406.5 579.5,409.9C578.1,413.2 573.9,416.5 570.8,419.9C567.7,423.2 564.1,426.9 560.8,429.9C557.5,432.8 552.5,436.1 550.8,437.3M499.8,439.8C498.3,441.5 493.6,447.5 490.9,449.8C488.1,452.1 486.3,454.0 483.4,453.6C480.4,453.2 477.1,450.5 473.4,447.3C469.6,444.2 465.0,437.6 460.9,434.8C456.7,432.1 453.0,431.6 448.4,431.1C443.8,430.6 437.6,431.2 433.4,431.9C429.2,432.5 425.9,432.7 423.4,434.8C420.9,437.0 419.7,441.5 418.4,444.8C417.2,448.2 416.3,453.2 415.9,454.8M366.0,444.8C367.0,446.3 369.9,450.7 372.2,453.6C374.5,456.5 378.7,459.1 379.7,462.3C380.7,465.6 378.7,471.3 378.5,473.1M483.4,453.6C484.2,455.5 486.7,461.6 488.4,464.8C490.0,468.1 492.5,471.7 493.3,473.1M580.8,409.9C582.4,410.3 587.2,412.4 590.8,412.4C594.3,412.4 600.1,410.3 602.0,409.9M577.0,463.6C576.0,464.6 572.2,468.2 570.8,469.8C569.3,471.4 568.7,472.5 568.3,473.1M300.0,445.0C302.5,445.8 309.6,448.8 315.0,450.0C320.4,451.2 326.6,452.0 332.5,452.0C338.3,452.0 345.2,450.8 350.0,450.0C354.7,449.2 358.5,448.2 361.2,447.0C363.9,445.7 365.4,443.2 366.2,442.5M379.9,460.0C382.0,460.4 388.3,462.9 392.4,462.5C396.6,462.1 400.9,459.1 404.9,457.5C408.9,455.8 413.6,454.6 416.1,452.5C418.6,450.4 418.8,447.1 419.9,445.0C420.9,442.9 422.0,440.8 422.4,440.0M379.9,460.0C378.7,462.1 374.9,468.7 372.4,472.5C369.9,476.2 367.2,479.1 364.9,482.5C362.7,485.8 358.9,489.1 358.7,492.5C358.5,495.8 362.4,498.7 363.7,502.4C364.9,506.2 365.6,511.2 366.2,514.9C366.8,518.7 366.2,521.2 367.4,524.9C368.7,528.7 372.0,534.5 373.7,537.4C375.3,540.3 376.8,541.6 377.4,542.4M416.1,452.5C417.2,453.7 419.7,456.7 422.4,460.0C425.1,463.3 429.0,468.7 432.4,472.5C435.7,476.2 439.0,479.3 442.4,482.5C445.7,485.6 449.0,488.3 452.4,491.2C455.7,494.1 459.2,496.8 462.3,499.9C465.5,503.1 469.6,508.3 471.1,509.9M471.1,509.9C472.5,509.1 476.7,506.6 479.8,504.9C483.0,503.3 486.9,502.0 489.8,499.9C492.7,497.9 495.7,495.8 497.3,492.5C499.0,489.1 499.0,484.5 499.8,480.0C500.6,475.4 501.3,469.8 502.3,465.0C503.4,460.2 506.3,454.8 506.1,451.2C505.9,447.7 502.5,445.6 501.1,443.7C499.6,441.9 497.9,440.6 497.3,440.0M471.1,509.9C471.3,512.0 471.9,518.3 472.3,522.4C472.8,526.6 473.6,530.7 473.6,534.9C473.6,539.1 472.5,545.3 472.3,547.4M377.4,542.4C379.5,542.4 385.8,543.2 389.9,542.4C394.1,541.6 399.1,539.1 402.4,537.4C405.7,535.7 407.0,532.2 409.9,532.4C412.8,532.6 417.0,536.4 419.9,538.7C422.8,540.9 424.7,544.1 427.4,546.2C430.1,548.2 432.4,550.5 436.1,551.1C439.9,551.8 445.5,550.3 449.9,549.9C454.2,549.5 458.6,548.9 462.3,548.6C466.1,548.4 470.7,548.6 472.3,548.6M494.8,499.9C495.4,502.4 497.3,509.9 498.6,514.9C499.8,519.9 500.9,525.3 502.3,529.9C503.8,534.5 504.8,540.5 507.3,542.4C509.8,544.3 514.0,542.2 517.3,541.2C520.6,540.1 524.4,538.5 527.3,536.2C530.2,533.9 533.1,529.5 534.8,527.4C536.4,525.3 536.9,524.3 537.3,523.7M537.3,523.7C538.9,525.1 543.5,530.3 547.3,532.4C551.0,534.5 556.8,535.1 559.8,536.2C562.7,537.2 563.9,538.2 564.8,538.7M377.4,542.4C376.2,543.7 371.9,548.0 369.9,549.9C367.9,551.8 366.2,553.0 365.4,553.6M365.4,553.6C367.0,553.0 371.3,550.3 374.9,549.9C378.6,549.5 383.3,550.1 387.4,551.1C391.6,552.2 396.4,554.1 399.9,556.1C403.4,558.2 406.4,560.5 408.6,563.6C410.9,566.8 412.7,570.5 413.6,574.9C414.6,579.2 414.0,584.9 414.4,589.9C414.8,594.9 416.3,600.3 416.1,604.8C416.0,609.4 415.1,613.6 413.6,617.3C412.2,621.1 410.1,624.6 407.4,627.3C404.7,630.0 401.2,632.3 397.4,633.6C393.7,634.8 389.1,635.0 384.9,634.8C380.8,634.6 376.6,633.6 372.4,632.3C368.3,631.1 363.1,628.6 359.9,627.3C356.8,626.1 354.7,625.2 353.7,624.8M436.1,551.9C434.7,553.2 429.6,556.5 427.4,559.9C425.2,563.3 423.5,567.8 422.9,572.4C422.3,577.0 422.5,582.8 423.6,587.4C424.8,591.9 427.2,596.5 429.9,599.9C432.6,603.2 436.1,605.5 439.9,607.3C443.6,609.2 448.2,610.9 452.4,611.1C456.5,611.3 460.7,610.5 464.8,608.6C469.0,606.7 474.0,603.4 477.3,599.9C480.7,596.3 483.4,591.5 484.8,587.4C486.3,583.2 486.5,579.0 486.1,574.9C485.7,570.7 484.0,565.9 482.3,562.4C480.7,558.8 477.8,555.9 476.1,553.6C474.4,551.4 473.0,549.5 472.3,548.6M560.0,452.5C561.7,452.1 566.2,450.6 570.0,450.0C573.7,449.4 578.3,449.2 582.5,448.7C586.6,448.3 592.3,448.5 595.0,447.5C597.7,446.5 598.1,443.3 598.7,442.5M567.5,457.5C568.7,458.5 572.7,461.2 575.0,463.7C577.3,466.2 580.0,469.3 581.2,472.5C582.5,475.6 582.9,478.3 582.5,482.5C582.1,486.6 580.4,492.5 578.7,497.4C577.1,502.4 574.8,507.9 572.5,512.4C570.2,517.0 567.1,521.6 565.0,524.9C562.9,528.3 560.8,531.2 560.0,532.4M560.0,537.4C561.7,538.7 566.2,543.2 570.0,544.9C573.7,546.6 577.9,547.6 582.5,547.4C587.1,547.2 592.9,545.5 597.5,543.7C602.0,541.8 606.2,539.3 610.0,536.2C613.7,533.0 617.9,528.3 619.9,524.9C622.0,521.6 622.0,517.6 622.4,516.2M622.4,516.2C624.5,516.7 630.8,519.6 634.9,519.4C639.1,519.2 643.7,517.1 647.4,514.9C651.2,512.7 654.7,509.5 657.4,506.2C660.1,502.9 662.7,498.9 663.7,494.9C664.6,491.0 663.3,485.4 662.9,482.5C662.5,479.5 661.4,478.3 661.2,477.5M622.4,516.2C621.8,514.3 619.3,509.3 618.7,504.9C618.1,500.6 618.5,494.5 618.7,490.0C618.9,485.4 619.5,481.4 619.9,477.5C620.4,473.5 621.4,469.1 621.2,466.2C621.0,463.3 619.1,461.0 618.7,460.0M661.2,477.5C662.2,475.8 665.5,470.4 667.4,467.5C669.3,464.6 672.0,462.9 672.4,460.0C672.8,457.1 671.4,452.9 669.9,450.0C668.4,447.1 664.7,443.7 663.7,442.5M663.7,496.2C665.1,497.4 668.9,501.8 672.4,503.7C675.9,505.6 682.2,505.6 684.9,507.4C687.6,509.3 687.4,512.2 688.6,514.9C689.9,517.6 690.5,521.0 692.4,523.7C694.3,526.4 697.0,529.1 699.9,531.2C702.8,533.2 706.5,534.7 709.9,536.2C713.2,537.6 716.1,538.7 719.9,539.9C723.6,541.2 728.2,543.4 732.3,543.7C736.5,543.9 741.9,541.8 744.8,541.2C747.7,540.5 749.0,540.1 749.8,539.9M713.6,458.7C715.1,458.6 719.2,457.6 722.3,458.0C725.5,458.4 729.4,458.8 732.3,461.2C735.3,463.6 736.9,468.9 739.8,472.5C742.7,476.0 746.7,479.5 749.8,482.5C752.9,485.4 757.9,487.0 758.6,490.0C759.2,492.9 755.4,496.6 753.6,499.9C751.7,503.3 748.5,505.8 747.3,509.9C746.2,514.1 746.8,520.1 746.8,524.9C746.8,529.7 747.2,536.4 747.3,538.7M749.8,539.9C751.5,540.9 756.1,544.5 759.8,546.2C763.6,547.8 768.1,548.9 772.3,549.9C776.5,550.9 780.6,551.2 784.8,552.4C789.0,553.6 792.7,555.4 797.3,556.9C801.9,558.3 809.8,560.4 812.3,561.1M578.7,394.9C577.9,393.2 575.2,388.2 573.7,384.9C572.3,381.6 570.4,378.3 570.0,374.9C569.6,371.6 570.6,368.3 571.2,364.9C571.9,361.6 571.4,357.9 573.7,354.9C576.0,352.0 581.0,349.9 585.0,347.4C588.9,344.9 593.9,342.5 597.5,340.0C601.0,337.5 603.7,334.5 606.2,332.5C608.7,330.4 609.7,328.6 612.5,327.5C615.2,326.3 618.7,325.5 622.4,325.7C626.2,325.9 631.2,327.0 634.9,328.7C638.7,330.5 642.0,333.3 644.9,336.2C647.8,339.1 650.5,342.7 652.4,346.2C654.3,349.7 656.0,353.5 656.2,357.4C656.4,361.4 654.9,366.0 653.7,369.9C652.4,373.9 650.5,378.3 648.7,381.2C646.8,384.1 643.5,386.4 642.4,387.4M585.0,392.4C587.1,391.4 592.5,387.6 597.5,386.2C602.5,384.7 609.1,383.9 614.9,383.7C620.8,383.5 627.4,384.3 632.4,384.9C637.4,385.5 642.4,385.3 644.9,387.4C647.4,389.5 647.2,393.2 647.4,397.4C647.6,401.6 648.3,409.7 646.2,412.4C644.1,415.1 639.3,413.2 634.9,413.6C630.6,414.1 624.9,413.8 619.9,414.9C614.9,415.9 608.7,419.5 605.0,419.9C601.2,420.3 600.4,418.6 597.5,417.4C594.6,416.1 589.6,415.3 587.5,412.4C585.4,409.5 585.4,403.2 585.0,399.9C584.6,396.6 585.0,393.7 585.0,392.4M578.7,394.9C578.9,397.0 580.6,404.5 580.0,407.4C579.4,410.3 577.5,411.1 575.0,412.4C572.5,413.6 567.5,414.1 565.0,414.9C562.5,415.7 560.8,417.0 560.0,417.4M646.2,412.4C646.4,414.5 646.0,421.5 647.4,424.9C648.9,428.2 652.0,429.9 654.9,432.4C657.8,434.9 662.4,437.6 664.9,439.9C667.4,442.2 669.1,445.1 669.9,446.1M649.9,397.4C651.6,396.6 656.2,393.4 659.9,392.4C663.7,391.4 668.2,390.5 672.4,391.2C676.6,391.8 681.6,396.6 684.9,396.2C688.2,395.7 689.0,390.5 692.4,388.7C695.7,386.8 701.1,386.0 704.9,384.9C708.6,383.9 711.9,383.7 714.9,382.4C717.8,381.2 721.1,378.3 722.3,377.4M722.3,377.4C722.8,375.3 722.8,369.5 724.8,364.9C726.9,360.4 732.3,354.1 734.8,349.9C737.3,345.8 740.2,343.3 739.8,340.0C739.4,336.6 735.3,333.3 732.3,330.0C729.4,326.6 725.3,322.5 722.3,320.0C719.4,317.5 718.2,316.0 714.9,315.0C711.5,313.9 705.9,314.6 702.4,313.7C698.8,312.9 695.5,311.4 693.6,310.0C691.8,308.5 690.5,307.3 691.1,305.0C691.8,302.7 695.7,298.3 697.4,296.2C699.0,294.2 700.5,293.1 701.1,292.5M701.0,292.0C702.5,289.7 706.5,282.3 710.0,278.0C713.5,273.7 717.8,267.0 722.0,266.0C726.2,265.0 730.3,268.0 735.0,272.0C739.7,276.0 747.5,287.0 750.0,290.0M749.8,290.0C751.5,290.8 757.3,292.5 759.8,295.0C762.3,297.5 763.8,301.2 764.8,305.0C765.9,308.7 766.5,313.3 766.1,317.5C765.6,321.6 763.1,327.0 762.3,330.0C761.5,332.9 761.3,334.1 761.1,335.0M761.1,335.0C762.5,335.6 767.1,337.2 769.8,338.7C772.5,340.2 775.2,341.4 777.3,343.7C779.4,346.0 781.0,348.9 782.3,352.4C783.5,356.0 785.0,360.8 784.8,364.9C784.6,369.1 782.3,374.1 781.0,377.4C779.8,380.7 777.9,383.7 777.3,384.9M722.3,377.4C724.0,378.7 729.0,382.8 732.3,384.9C735.7,387.0 739.0,388.0 742.3,389.9C745.7,391.8 749.8,394.5 752.3,396.2C754.8,397.8 756.5,399.3 757.3,399.9M757.3,399.9C757.1,402.0 756.7,408.6 756.1,412.4C755.4,416.1 753.8,419.0 753.6,422.4C753.4,425.7 754.6,430.7 754.8,432.4M754.8,432.4C753.2,432.2 748.6,430.9 744.8,431.1C741.1,431.3 736.1,432.2 732.3,433.6C728.6,435.1 724.8,437.2 722.3,439.9C719.9,442.6 718.6,446.7 717.4,449.9C716.1,453.0 715.3,457.1 714.9,458.6M732.3,461.1C733.2,459.2 735.3,453.4 737.3,449.9C739.4,446.3 741.9,442.8 744.8,439.9C747.7,436.9 753.2,433.6 754.8,432.4M777.3,384.9C779.4,384.8 785.6,384.4 789.8,384.4C794.0,384.4 798.5,384.2 802.3,384.9C806.0,385.6 809.4,386.6 812.3,388.7C815.2,390.7 817.9,394.3 819.8,397.4C821.6,400.5 823.1,403.6 823.5,407.4C823.9,411.1 824.1,416.5 822.3,419.9C820.4,423.2 816.0,424.7 812.3,427.4C808.5,430.1 803.9,433.4 799.8,436.1C795.6,438.8 791.0,442.2 787.3,443.6C783.5,445.0 780.6,445.0 777.3,444.4C774.0,443.7 770.4,441.7 767.3,439.9C764.2,438.1 760.6,434.9 758.6,433.6C756.5,432.4 755.4,432.6 754.8,432.4M560.0,449.9C561.7,449.4 565.8,448.0 570.0,447.4C574.2,446.7 580.4,446.1 585.0,446.1C589.6,446.1 595.4,447.1 597.5,447.4M570.0,454.8C570.8,456.1 574.6,460.7 575.0,462.3C575.4,464.0 572.9,464.4 572.5,464.8M597.5,447.4C599.5,448.2 606.4,450.1 610.0,452.3C613.5,454.6 616.6,460.7 618.7,461.1C620.8,461.5 621.0,457.1 622.4,454.8C623.9,452.6 625.4,449.9 627.4,447.4C629.5,444.9 633.7,441.1 634.9,439.9M618.7,461.1C619.5,462.3 621.0,467.5 623.7,468.6C626.4,469.7 631.0,467.6 634.9,467.8C638.9,468.0 643.0,468.5 647.4,469.8C651.8,471.2 658.9,475.0 661.2,476.1M597.5,417.4C598.7,418.2 604.5,420.9 605.0,422.4C605.4,423.8 600.8,425.5 600.0,426.1M852.4,418.7C851.6,417.0 848.5,412.4 847.4,408.7C846.4,404.9 846.0,400.2 846.2,396.2C846.4,392.2 847.2,388.5 848.7,385.0C850.2,381.4 852.2,377.7 854.9,375.0C857.6,372.3 861.2,370.1 864.9,368.7C868.7,367.4 873.3,366.6 877.4,367.0C881.6,367.4 886.2,369.1 889.9,371.2C893.7,373.4 896.6,377.0 899.9,380.0C903.2,382.9 907.4,385.4 909.9,388.7C912.4,392.0 913.6,396.0 914.9,399.9C916.2,403.9 917.7,408.3 917.9,412.4C918.1,416.6 917.0,421.4 916.1,424.9C915.2,428.5 912.6,430.3 912.4,433.7C912.2,437.0 914.0,441.2 914.9,444.9C915.8,448.6 916.2,453.4 917.9,456.1C919.5,458.8 922.5,459.3 924.9,461.1C927.3,463.0 930.3,464.7 932.4,467.4C934.4,470.1 936.3,474.0 937.4,477.4C938.4,480.7 937.8,484.2 938.6,487.4C939.4,490.5 941.7,494.6 942.4,496.1M822.5,421.2C824.1,421.1 828.7,420.4 832.5,420.4C836.2,420.4 841.6,420.8 844.9,421.2C848.3,421.5 851.2,422.2 852.4,422.4M942.4,496.1C942.8,497.4 942.8,502.6 944.9,503.6C946.9,504.6 951.1,502.1 954.8,502.3C958.6,502.6 963.2,504.1 967.3,504.8C971.5,505.6 975.7,505.8 979.8,506.8C984.0,507.9 988.2,510.8 992.3,511.1C996.5,511.4 1000.6,508.5 1004.8,508.6C1009.0,508.7 1014.5,511.0 1017.8,511.8C1021.1,512.7 1023.6,513.3 1024.8,513.6M943.6,502.4C943.2,504.9 941.8,512.4 941.1,517.4C940.4,522.4 940.0,527.8 939.4,532.4C938.7,537.0 938.5,541.1 937.4,544.9C936.2,548.7 933.2,553.6 932.4,555.4M932.4,555.4C930.3,555.5 924.5,556.2 919.9,556.1C915.3,556.1 909.5,555.3 904.9,554.9C900.3,554.5 896.2,554.9 892.4,553.6C888.7,552.4 885.5,549.3 882.4,547.4C879.3,545.5 876.6,543.7 873.7,542.4C870.8,541.2 866.4,540.3 864.9,539.9M932.4,555.4C933.6,556.8 936.9,561.2 939.9,563.6C942.8,566.1 946.1,568.5 949.9,569.9C953.6,571.3 958.2,572.1 962.3,571.9C966.5,571.7 971.1,570.0 974.8,568.6C978.6,567.3 981.1,563.6 984.8,563.6C988.6,563.6 993.6,567.8 997.3,568.6C1001.1,569.5 1003.9,569.0 1007.3,568.6C1010.7,568.2 1014.9,566.8 1017.8,566.1C1020.7,565.5 1023.6,565.1 1024.8,564.9M873.7,542.4C874.5,544.1 877.3,548.6 878.7,552.4C880.0,556.1 881.7,560.7 881.9,564.9C882.1,569.0 881.3,573.4 879.9,577.4C878.5,581.3 876.6,585.5 873.7,588.6C870.8,591.7 866.4,594.4 862.4,596.1C858.5,597.8 854.1,598.6 849.9,598.6C845.8,598.6 841.6,597.6 837.5,596.1C833.3,594.6 828.5,592.4 825.0,589.9C821.4,587.4 818.2,584.4 816.2,581.1C814.2,577.8 813.6,573.0 813.0,569.9C812.4,566.8 812.6,563.6 812.5,562.4" fill="none" stroke="#000" stroke-width="1.5" stroke-dasharray="5.9 4.1"/>
</g>
<text x="251.33" y="164.00" font-size="13.44" textLength="33.33" lengthAdjust="spacingAndGlyphs" fill="#000">CNMI</text>
<text x="244.83" y="231.00" font-size="13.44" textLength="38.34" lengthAdjust="spacingAndGlyphs" fill="#000">Guam</text>
<text x="415.76" y="238.00" font-size="13.44" textLength="53.89" lengthAdjust="spacingAndGlyphs" fill="#000">Marshall</text>
<text x="473.72" y="238.00" font-size="13.44" textLength="14.51" lengthAdjust="spacingAndGlyphs" fill="#000">Is.</text>
<text x="258.36" y="267.00" font-size="13.44" textLength="64.66" lengthAdjust="spacingAndGlyphs" fill="#000">Federated</text>
<text x="327.09" y="267.00" font-size="13.44" textLength="40.55" lengthAdjust="spacingAndGlyphs" fill="#000">States</text>
<text x="270.54" y="282.00" font-size="13.44" textLength="12.34" lengthAdjust="spacingAndGlyphs" fill="#000">of</text>
<text x="286.95" y="282.00" font-size="13.44" textLength="68.51" lengthAdjust="spacingAndGlyphs" fill="#000">Micronesia</text>
<text x="151.75" y="289.00" font-size="13.44" textLength="34.50" lengthAdjust="spacingAndGlyphs" fill="#000">Palau</text>
<text x="247.47" y="333.00" font-size="13.44" textLength="39.07" lengthAdjust="spacingAndGlyphs" fill="#000">Papua</text>
<text x="290.61" y="333.00" font-size="13.44" textLength="27.92" lengthAdjust="spacingAndGlyphs" fill="#000">New</text>
<text x="260.29" y="348.00" font-size="13.44" textLength="45.42" lengthAdjust="spacingAndGlyphs" fill="#000">Guinea</text>
<text x="417.55" y="333.00" font-size="13.44" textLength="38.91" lengthAdjust="spacingAndGlyphs" fill="#000">Nauru</text>
<text x="464.34" y="353.00" font-size="13.44" textLength="45.31" lengthAdjust="spacingAndGlyphs" fill="#000">Kiribati</text>
<text x="587.34" y="369.00" font-size="13.44" textLength="45.31" lengthAdjust="spacingAndGlyphs" fill="#000">Kiribati</text>
<text x="734.34" y="369.00" font-size="13.44" textLength="45.31" lengthAdjust="spacingAndGlyphs" fill="#000">Kiribati</text>
<text x="512.46" y="399.00" font-size="13.44" textLength="41.08" lengthAdjust="spacingAndGlyphs" fill="#000">Tuvalu</text>
<text x="594.09" y="402.00" font-size="13.44" textLength="47.82" lengthAdjust="spacingAndGlyphs" fill="#000">Tokelau</text>
<text x="393.83" y="428.00" font-size="13.44" textLength="55.76" lengthAdjust="spacingAndGlyphs" fill="#000">Solomon</text>
<text x="453.66" y="428.00" font-size="13.44" textLength="14.51" lengthAdjust="spacingAndGlyphs" fill="#000">Is.</text>
<text x="674.70" y="423.00" font-size="13.44" textLength="32.01" lengthAdjust="spacingAndGlyphs" fill="#000">Cook</text>
<text x="710.78" y="423.00" font-size="13.44" textLength="14.51" lengthAdjust="spacingAndGlyphs" fill="#000">Is.</text>
<text x="551.93" y="447.00" font-size="13.44" textLength="12.66" lengthAdjust="spacingAndGlyphs" fill="#000">W</text>
<text x="568.66" y="447.00" font-size="13.44" textLength="9.98" lengthAdjust="spacingAndGlyphs" fill="#000">&amp;</text>
<text x="582.71" y="447.00" font-size="13.44" textLength="7.36" lengthAdjust="spacingAndGlyphs" fill="#000">F</text>
<text x="589.94" y="439.00" font-size="13.44" textLength="44.11" lengthAdjust="spacingAndGlyphs" fill="#000">Samoa</text>
<text x="621.61" y="456.00" font-size="13.44" textLength="12.60" lengthAdjust="spacingAndGlyphs" fill="#000">A.</text>
<text x="638.28" y="456.00" font-size="13.44" textLength="44.11" lengthAdjust="spacingAndGlyphs" fill="#000">Samoa</text>
<text x="428.60" y="473.00" font-size="13.44" textLength="52.81" lengthAdjust="spacingAndGlyphs" fill="#000">Vanuatu</text>
<text x="514.45" y="499.00" font-size="13.44" textLength="17.10" lengthAdjust="spacingAndGlyphs" fill="#000">Fiji</text>
<text x="623.44" y="499.00" font-size="13.44" textLength="29.12" lengthAdjust="spacingAndGlyphs" fill="#000">Niue</text>
<text x="579.22" y="517.00" font-size="13.44" textLength="37.56" lengthAdjust="spacingAndGlyphs" fill="#000">Tonga</text>
<text x="784.55" y="488.00" font-size="13.44" textLength="42.55" lengthAdjust="spacingAndGlyphs" fill="#000">French</text>
<text x="831.17" y="488.00" font-size="13.44" textLength="60.28" lengthAdjust="spacingAndGlyphs" fill="#000">Polynesia</text>
<text x="374.17" y="527.00" font-size="13.44" textLength="27.92" lengthAdjust="spacingAndGlyphs" fill="#000">New</text>
<text x="406.15" y="527.00" font-size="13.44" textLength="63.68" lengthAdjust="spacingAndGlyphs" fill="#000">Caledonia</text>
<text x="955.20" y="546.00" font-size="13.44" textLength="47.60" lengthAdjust="spacingAndGlyphs" fill="#000">Pitcairn</text>
<text x="971.74" y="561.00" font-size="13.44" textLength="14.51" lengthAdjust="spacingAndGlyphs" fill="#000">Is.</text>
<text x="99.00" y="621.00" font-size="12.92" textLength="11.50" lengthAdjust="spacingAndGlyphs" fill="#000" fill-opacity="0.5">©</text>
<text x="114.16" y="621.00" font-size="12.92" textLength="90.32" lengthAdjust="spacingAndGlyphs" fill="#000" fill-opacity="0.5">Commonwealth</text>
<text x="208.13" y="621.00" font-size="12.92" textLength="11.08" lengthAdjust="spacingAndGlyphs" fill="#000" fill-opacity="0.5">of</text>
<text x="222.87" y="621.00" font-size="12.92" textLength="50.87" lengthAdjust="spacingAndGlyphs" fill="#000" fill-opacity="0.5">Australia</text>
<text x="277.39" y="621.00" font-size="12.92" textLength="32.92" lengthAdjust="spacingAndGlyphs" fill="#000" fill-opacity="0.5">2026,</text>
<text x="313.97" y="621.00" font-size="12.92" textLength="41.07" lengthAdjust="spacingAndGlyphs" fill="#000" fill-opacity="0.5">Bureau</text>
<text x="358.69" y="621.00" font-size="12.92" textLength="11.08" lengthAdjust="spacingAndGlyphs" fill="#000" fill-opacity="0.5">of</text>
<text x="373.43" y="621.00" font-size="12.92" textLength="75.12" lengthAdjust="spacingAndGlyphs" fill="#000" fill-opacity="0.5">Meteorology,</text>
<text x="452.21" y="621.00" font-size="12.92" textLength="58.53" lengthAdjust="spacingAndGlyphs" fill="#000" fill-opacity="0.5">supported</text>
<text x="514.40" y="621.00" font-size="12.92" textLength="14.11" lengthAdjust="spacingAndGlyphs" fill="#000" fill-opacity="0.5">by</text>
<text x="532.16" y="621.00" font-size="12.92" textLength="51.11" lengthAdjust="spacingAndGlyphs" fill="#000" fill-opacity="0.5">COSPPac</text>
<text x="19.56" y="167.88" font-size="15.02" textLength="35.04" lengthAdjust="spacingAndGlyphs" fill="#000">20°N</text>
<text x="19.56" y="252.53" font-size="15.02" textLength="35.04" lengthAdjust="spacingAndGlyphs" fill="#000">10°N</text>
<text x="38.81" y="334.60" font-size="15.02" textLength="15.79" lengthAdjust="spacingAndGlyphs" fill="#000">0°</text>
<text x="21.14" y="416.67" font-size="15.02" textLength="33.46" lengthAdjust="spacingAndGlyphs" fill="#000">10°S</text>
<text x="21.14" y="501.32" font-size="15.02" textLength="33.46" lengthAdjust="spacingAndGlyphs" fill="#000">20°S</text>
<text x="21.14" y="591.58" font-size="15.02" textLength="33.46" lengthAdjust="spacingAndGlyphs" fill="#000">30°S</text>
<text x="43.88" y="657.20" font-size="15.02" textLength="40.44" lengthAdjust="spacingAndGlyphs" fill="#000">120°E</text>
<text x="125.53" y="657.20" font-size="15.02" textLength="40.44" lengthAdjust="spacingAndGlyphs" fill="#000">130°E</text>
<text x="207.18" y="657.20" font-size="15.02" textLength="40.44" lengthAdjust="spacingAndGlyphs" fill="#000">140°E</text>
<text x="288.83" y="657.20" font-size="15.02" textLength="40.44" lengthAdjust="spacingAndGlyphs" fill="#000">150°E</text>
<text x="370.48" y="657.20" font-size="15.02" textLength="40.44" lengthAdjust="spacingAndGlyphs" fill="#000">160°E</text>
<text x="452.13" y="657.20" font-size="15.02" textLength="40.44" lengthAdjust="spacingAndGlyphs" fill="#000">170°E</text>
<text x="537.98" y="657.20" font-size="15.02" textLength="32.04" lengthAdjust="spacingAndGlyphs" fill="#000">180°</text>
<text x="613.06" y="657.20" font-size="15.02" textLength="45.19" lengthAdjust="spacingAndGlyphs" fill="#000">170°W</text>
<text x="694.71" y="657.20" font-size="15.02" textLength="45.19" lengthAdjust="spacingAndGlyphs" fill="#000">160°W</text>
<text x="776.36" y="657.20" font-size="15.02" textLength="45.19" lengthAdjust="spacingAndGlyphs" fill="#000">150°W</text>
<text x="858.01" y="657.20" font-size="15.02" textLength="45.19" lengthAdjust="spacingAndGlyphs" fill="#000">140°W</text>
<text x="939.66" y="657.20" font-size="15.02" textLength="45.19" lengthAdjust="spacingAndGlyphs" fill="#000">130°W</text>
<text x="326.10" y="25.80" font-size="23.52" textLength="66.30" lengthAdjust="spacingAndGlyphs" fill="#000">Tercile</text>
<text x="399.06" y="25.80" font-size="23.52" textLength="105.51" lengthAdjust="spacingAndGlyphs" fill="#000">maximum</text>
<text x="511.22" y="25.80" font-size="23.52" textLength="131.63" lengthAdjust="spacingAndGlyphs" fill="#000">temperature</text>
<text x="649.51" y="25.80" font-size="23.52" textLength="128.94" lengthAdjust="spacingAndGlyphs" fill="#000">probabilities</text>
<text x="785.11" y="25.80" font-size="23.52" textLength="28.79" lengthAdjust="spacingAndGlyphs" fill="#000">for</text>
<text x="469.29" y="48.80" font-size="23.52" textLength="63.84" lengthAdjust="spacingAndGlyphs" fill="#000">March</text>
<text x="539.79" y="48.80" font-size="23.52" textLength="21.02" lengthAdjust="spacingAndGlyphs" fill="#000">to</text>
<text x="567.47" y="48.80" font-size="23.52" textLength="43.29" lengthAdjust="spacingAndGlyphs" fill="#000">May</text>
<text x="617.41" y="48.80" font-size="23.52" textLength="53.29" lengthAdjust="spacingAndGlyphs" fill="#000">2026</text>
<text x="10.50" y="54.70" font-size="12.92" textLength="27.83" lengthAdjust="spacingAndGlyphs" fill="#000">Base</text>
<text x="41.97" y="54.70" font-size="12.92" textLength="40.26" lengthAdjust="spacingAndGlyphs" fill="#000">period:</text>
<text x="85.86" y="54.70" font-size="12.92" textLength="62.30" lengthAdjust="spacingAndGlyphs" fill="#000">1981-2018</text>
<text x="10.50" y="71.00" font-size="12.92" textLength="38.17" lengthAdjust="spacingAndGlyphs" fill="#000">Model:</text>
<text x="52.30" y="71.00" font-size="12.92" textLength="63.97" lengthAdjust="spacingAndGlyphs" fill="#000">ACCESS-S2</text>
<text x="944.69" y="54.90" font-size="12.92" textLength="34.32" lengthAdjust="spacingAndGlyphs" fill="#000">Model</text>
<text x="982.64" y="54.90" font-size="12.92" textLength="23.04" lengthAdjust="spacingAndGlyphs" fill="#000">run:</text>
<text x="1009.32" y="54.90" font-size="12.92" textLength="65.88" lengthAdjust="spacingAndGlyphs" fill="#000">02/02/2026</text>
<text x="965.02" y="72.00" font-size="12.92" textLength="40.66" lengthAdjust="spacingAndGlyphs" fill="#000">Issued:</text>
<text x="1009.32" y="72.00" font-size="12.92" textLength="65.88" lengthAdjust="spacingAndGlyphs" fill="#000">04/02/2026</text>
<text x="10.50" y="807.50" font-size="12.92" textLength="8.25" lengthAdjust="spacingAndGlyphs" fill="#000">--</text>
<text x="26.02" y="807.50" font-size="12.92" textLength="8.25" lengthAdjust="spacingAndGlyphs" fill="#000">--</text>
<text x="41.53" y="807.50" font-size="12.92" textLength="8.25" lengthAdjust="spacingAndGlyphs" fill="#000">--</text>
<text x="53.42" y="807.50" font-size="12.92" textLength="22.28" lengthAdjust="spacingAndGlyphs" fill="#000">EEZ</text>
<text x="79.32" y="807.50" font-size="12.92" textLength="37.73" lengthAdjust="spacingAndGlyphs" fill="#000">border</text>
<text x="120.69" y="807.50" font-size="12.92" textLength="22.36" lengthAdjust="spacingAndGlyphs" fill="#000">V11</text>
<text x="146.69" y="807.50" font-size="12.92" textLength="53.40" lengthAdjust="spacingAndGlyphs" fill="#000">(Flanders</text>
<text x="203.72" y="807.50" font-size="12.92" textLength="39.02" lengthAdjust="spacingAndGlyphs" fill="#000">Marine</text>
<text x="246.38" y="807.50" font-size="12.92" textLength="51.10" lengthAdjust="spacingAndGlyphs" fill="#000">Institute,</text>
<text x="301.11" y="807.50" font-size="12.92" textLength="37.18" lengthAdjust="spacingAndGlyphs" fill="#000">2019).</text>
<polygon points="11.90,717.90 59.80,701.7 59.80,734.1" fill="#fff"/>
<rect x="59.80" y="701.7" width="48.40" height="32.40" fill="#c9e1e7"/>
<rect x="107.90" y="701.7" width="48.40" height="32.40" fill="#a9c8cd"/>
<rect x="156.00" y="701.7" width="48.40" height="32.40" fill="#8cb9c1"/>
<rect x="204.10" y="701.7" width="48.40" height="32.40" fill="#6eadb9"/>
<rect x="252.20" y="701.7" width="48.40" height="32.40" fill="#49a1b3"/>
<polygon points="300.30,701.7 348.20,717.90 300.30,734.1" fill="#2c8fa6"/>
<polygon points="11.90,717.90 59.80,701.7 300.30,701.7 348.20,717.90 300.30,734.1 59.80,734.1" fill="none" stroke="#000" stroke-width="1"/>
<line x1="59.80" y1="701.7" x2="59.80" y2="734.1" stroke="#000" stroke-width="0.9"/>
<line x1="107.90" y1="701.7" x2="107.90" y2="734.1" stroke="#000" stroke-width="0.9"/>
<line x1="156.00" y1="701.7" x2="156.00" y2="734.1" stroke="#000" stroke-width="0.9"/>
<line x1="204.10" y1="701.7" x2="204.10" y2="734.1" stroke="#000" stroke-width="0.9"/>
<line x1="252.20" y1="701.7" x2="252.20" y2="734.1" stroke="#000" stroke-width="0.9"/>
<line x1="300.30" y1="701.7" x2="300.30" y2="734.1" stroke="#000" stroke-width="0.9"/>
<text x="49.01" y="750.60" font-size="18.06" textLength="19.98" lengthAdjust="spacingAndGlyphs" fill="#000">40</text>
<text x="97.11" y="750.60" font-size="18.06" textLength="19.98" lengthAdjust="spacingAndGlyphs" fill="#000">50</text>
<text x="145.21" y="750.60" font-size="18.06" textLength="19.98" lengthAdjust="spacingAndGlyphs" fill="#000">60</text>
<text x="193.31" y="750.60" font-size="18.06" textLength="19.98" lengthAdjust="spacingAndGlyphs" fill="#000">70</text>
<text x="241.41" y="750.60" font-size="18.06" textLength="19.98" lengthAdjust="spacingAndGlyphs" fill="#000">80</text>
<text x="289.51" y="750.60" font-size="18.06" textLength="19.98" lengthAdjust="spacingAndGlyphs" fill="#000">90</text>
<text x="97.56" y="777.60" font-size="18.79" textLength="55.36" lengthAdjust="spacingAndGlyphs" fill="#000">Below</text>
<text x="158.77" y="777.60" font-size="18.79" textLength="64.47" lengthAdjust="spacingAndGlyphs" fill="#000">normal</text>
<text x="229.10" y="777.60" font-size="18.79" textLength="31.84" lengthAdjust="spacingAndGlyphs" fill="#000">(%)</text>
<polygon points="373.40,717.90 421.30,701.7 421.30,734.1" fill="#fff"/>
<rect x="421.30" y="701.7" width="48.40" height="32.40" fill="#e6e6e6"/>
<rect x="469.40" y="701.7" width="48.40" height="32.40" fill="#d9d9d9"/>
<rect x="517.50" y="701.7" width="48.40" height="32.40" fill="#cccccc"/>
<rect x="565.60" y="701.7" width="48.40" height="32.40" fill="#b8b9b8"/>
<rect x="613.70" y="701.7" width="48.40" height="32.40" fill="#a3a3a3"/>
<polygon points="661.80,701.7 709.70,717.90 661.80,734.1" fill="#878787"/>
<polygon points="373.40,717.90 421.30,701.7 661.80,701.7 709.70,717.90 661.80,734.1 421.30,734.1" fill="none" stroke="#000" stroke-width="1"/>
<line x1="421.30" y1="701.7" x2="421.30" y2="734.1" stroke="#000" stroke-width="0.9"/>
<line x1="469.40" y1="701.7" x2="469.40" y2="734.1" stroke="#000" stroke-width="0.9"/>
<line x1="517.50" y1="701.7" x2="517.50" y2="734.1" stroke="#000" stroke-width="0.9"/>
<line x1="565.60" y1="701.7" x2="565.60" y2="734.1" stroke="#000" stroke-width="0.9"/>
<line x1="613.70" y1="701.7" x2="613.70" y2="734.1" stroke="#000" stroke-width="0.9"/>
<line x1="661.80" y1="701.7" x2="661.80" y2="734.1" stroke="#000" stroke-width="0.9"/>
<text x="410.51" y="750.60" font-size="18.06" textLength="19.98" lengthAdjust="spacingAndGlyphs" fill="#000">40</text>
<text x="458.61" y="750.60" font-size="18.06" textLength="19.98" lengthAdjust="spacingAndGlyphs" fill="#000">50</text>
<text x="506.71" y="750.60" font-size="18.06" textLength="19.98" lengthAdjust="spacingAndGlyphs" fill="#000">60</text>
<text x="554.81" y="750.60" font-size="18.06" textLength="19.98" lengthAdjust="spacingAndGlyphs" fill="#000">70</text>
<text x="602.91" y="750.60" font-size="18.06" textLength="19.98" lengthAdjust="spacingAndGlyphs" fill="#000">80</text>
<text x="651.01" y="750.60" font-size="18.06" textLength="19.98" lengthAdjust="spacingAndGlyphs" fill="#000">90</text>
<text x="464.78" y="777.60" font-size="18.79" textLength="43.93" lengthAdjust="spacingAndGlyphs" fill="#000">Near</text>
<text x="514.56" y="777.60" font-size="18.79" textLength="64.47" lengthAdjust="spacingAndGlyphs" fill="#000">normal</text>
<text x="584.88" y="777.60" font-size="18.79" textLength="31.84" lengthAdjust="spacingAndGlyphs" fill="#000">(%)</text>
<polygon points="728.40,717.90 776.30,701.7 776.30,734.1" fill="#fff"/>
<rect x="776.30" y="701.7" width="48.40" height="32.40" fill="#e0b9bf"/>
<rect x="824.40" y="701.7" width="48.40" height="32.40" fill="#d89aa3"/>
<rect x="872.50" y="701.7" width="48.40" height="32.40" fill="#cf7b87"/>
<rect x="920.60" y="701.7" width="48.40" height="32.40" fill="#c65c6c"/>
<rect x="968.70" y="701.7" width="48.40" height="32.40" fill="#bc3850"/>
<polygon points="1016.80,701.7 1064.70,717.90 1016.80,734.1" fill="#b11e3c"/>
<polygon points="728.40,717.90 776.30,701.7 1016.80,701.7 1064.70,717.90 1016.80,734.1 776.30,734.1" fill="none" stroke="#000" stroke-width="1"/>
<line x1="776.30" y1="701.7" x2="776.30" y2="734.1" stroke="#000" stroke-width="0.9"/>
<line x1="824.40" y1="701.7" x2="824.40" y2="734.1" stroke="#000" stroke-width="0.9"/>
<line x1="872.50" y1="701.7" x2="872.50" y2="734.1" stroke="#000" stroke-width="0.9"/>
<line x1="920.60" y1="701.7" x2="920.60" y2="734.1" stroke="#000" stroke-width="0.9"/>
<line x1="968.70" y1="701.7" x2="968.70" y2="734.1" stroke="#000" stroke-width="0.9"/>
<line x1="1016.80" y1="701.7" x2="1016.80" y2="734.1" stroke="#000" stroke-width="0.9"/>
<text x="765.51" y="750.60" font-size="18.06" textLength="19.98" lengthAdjust="spacingAndGlyphs" fill="#000">40</text>
<text x="813.61" y="750.60" font-size="18.06" textLength="19.98" lengthAdjust="spacingAndGlyphs" fill="#000">50</text>
<text x="861.71" y="750.60" font-size="18.06" textLength="19.98" lengthAdjust="spacingAndGlyphs" fill="#000">60</text>
<text x="909.81" y="750.60" font-size="18.06" textLength="19.98" lengthAdjust="spacingAndGlyphs" fill="#000">70</text>
<text x="957.91" y="750.60" font-size="18.06" textLength="19.98" lengthAdjust="spacingAndGlyphs" fill="#000">80</text>
<text x="1006.01" y="750.60" font-size="18.06" textLength="19.98" lengthAdjust="spacingAndGlyphs" fill="#000">90</text>
<text x="812.88" y="777.60" font-size="18.79" textLength="57.73" lengthAdjust="spacingAndGlyphs" fill="#000">Above</text>
<text x="876.46" y="777.60" font-size="18.79" textLength="64.47" lengthAdjust="spacingAndGlyphs" fill="#000">normal</text>
<text x="946.78" y="777.60" font-size="18.79" textLength="31.84" lengthAdjust="spacingAndGlyphs" fill="#000">(%)</text>
</svg></body></html>
